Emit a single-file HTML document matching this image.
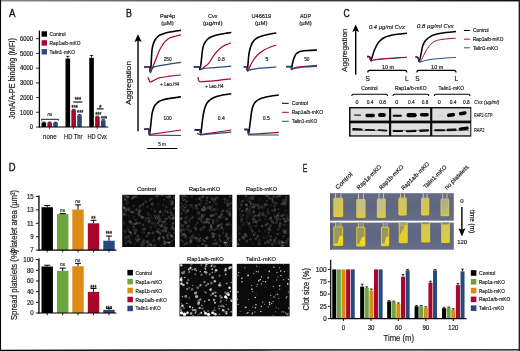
<!DOCTYPE html>
<html lang="en">
<head>
<meta charset="utf-8">
<title>Figure</title>
<style>
html,body{margin:0;padding:0;background:#fff;}
body{width:520px;height:351px;overflow:hidden;position:relative;}
svg{display:block;position:absolute;left:0;top:0;}
text{font-family:"Liberation Sans",sans-serif;stroke:#1a1a1a;stroke-width:0.18px;}
</style>
</head>
<body>
<svg width="520" height="351" viewBox="0 0 520 351">
<defs>
<filter id="b1" x="-10%" y="-30%" width="120%" height="160%"><feGaussianBlur stdDeviation="0.45"/></filter>
<linearGradient id="gtop" x1="0" y1="0" x2="1" y2="0"><stop offset="0" stop-color="#848484"/><stop offset="0.5" stop-color="#4a4a4a"/><stop offset="1" stop-color="#101010"/></linearGradient>
<linearGradient id="gb1" x1="0" y1="0" x2="1" y2="0"><stop offset="0" stop-color="#c4c4c4"/><stop offset="0.25" stop-color="#606060"/><stop offset="0.5" stop-color="#3a3a3a"/><stop offset="1" stop-color="#343434"/></linearGradient>
<linearGradient id="gb2" x1="0" y1="0" x2="1" y2="0"><stop offset="0" stop-color="#000"/><stop offset="0.5" stop-color="#3a3a3a"/><stop offset="0.53" stop-color="#6c6c6c"/><stop offset="1" stop-color="#848484"/></linearGradient>
<filter id="b05"><feGaussianBlur stdDeviation="0.3"/></filter>
<filter id="b04"><feGaussianBlur stdDeviation="0.35"/></filter>
<filter id="b045"><feGaussianBlur stdDeviation="0.6"/></filter>
<filter id="b06"><feGaussianBlur stdDeviation="0.45"/></filter>
<linearGradient id="pbg" x1="0" y1="0" x2="0" y2="1"><stop offset="0" stop-color="#646b85"/><stop offset="0.5" stop-color="#5f6681"/><stop offset="1" stop-color="#676d85"/></linearGradient>
<linearGradient id="ty1" x1="0" y1="0" x2="0" y2="1"><stop offset="0" stop-color="#d6c548"/><stop offset="0.8" stop-color="#dfca30"/><stop offset="1" stop-color="#e8d022"/></linearGradient>
<linearGradient id="ty1i" x1="0" y1="0" x2="0" y2="1"><stop offset="0" stop-color="#cbc274"/><stop offset="1" stop-color="#d6c752"/></linearGradient>
<linearGradient id="ty2" x1="0" y1="0" x2="0" y2="1"><stop offset="0" stop-color="#c9c07a"/><stop offset="0.75" stop-color="#d3c550"/><stop offset="1" stop-color="#dfcb2e"/></linearGradient>
<linearGradient id="ty2i" x1="0" y1="0" x2="0" y2="1"><stop offset="0" stop-color="#c2be94"/><stop offset="1" stop-color="#cfc56c"/></linearGradient>
<linearGradient id="ty3" x1="0" y1="0" x2="0" y2="1"><stop offset="0" stop-color="#bdb98a"/><stop offset="0.75" stop-color="#cdc25c"/><stop offset="1" stop-color="#dcc934"/></linearGradient>
<linearGradient id="ty3i" x1="0" y1="0" x2="0" y2="1"><stop offset="0" stop-color="#aaa98c"/><stop offset="1" stop-color="#c2ba68"/></linearGradient>
<linearGradient id="ty4" x1="0" y1="0" x2="0" y2="1"><stop offset="0" stop-color="#d8c84a"/><stop offset="1" stop-color="#e4ce28"/></linearGradient>
<linearGradient id="ty4i" x1="0" y1="0" x2="0" y2="1"><stop offset="0" stop-color="#d2c662"/><stop offset="1" stop-color="#dccb40"/></linearGradient>
</defs>
<rect x="0" y="0" width="520" height="351" fill="#fff"/>
<text x="9.00" y="16.90" font-size="11.0" text-anchor="start" fill="#1a1a1a" textLength="6.50" lengthAdjust="spacingAndGlyphs" style="stroke-width:0.4px">A</text>
<text x="126.10" y="17.00" font-size="11.0" text-anchor="start" fill="#1a1a1a" textLength="5.90" lengthAdjust="spacingAndGlyphs" style="stroke-width:0.4px">B</text>
<text x="343.60" y="17.10" font-size="11.0" text-anchor="start" fill="#1a1a1a" textLength="6.20" lengthAdjust="spacingAndGlyphs" style="stroke-width:0.4px">C</text>
<text x="8.70" y="171.30" font-size="11.0" text-anchor="start" fill="#1a1a1a" textLength="6.80" lengthAdjust="spacingAndGlyphs" style="stroke-width:0.4px">D</text>
<text x="302.80" y="171.50" font-size="11.0" text-anchor="start" fill="#1a1a1a" textLength="4.60" lengthAdjust="spacingAndGlyphs" style="stroke-width:0.4px">E</text>
<rect x="41.50" y="122.58" width="4.60" height="4.42" fill="#000"/>
<line x1="43.80" y1="122.14" x2="43.80" y2="122.58" stroke="#000" stroke-width="0.8"/>
<line x1="42.10" y1="122.14" x2="45.50" y2="122.14" stroke="#000" stroke-width="0.8"/>
<rect x="47.35" y="122.58" width="4.60" height="4.42" fill="#a8062c"/>
<line x1="49.65" y1="122.14" x2="49.65" y2="122.58" stroke="#000" stroke-width="0.8"/>
<line x1="47.95" y1="122.14" x2="51.35" y2="122.14" stroke="#000" stroke-width="0.8"/>
<rect x="53.20" y="122.73" width="4.60" height="4.27" fill="#28487e"/>
<line x1="55.50" y1="122.29" x2="55.50" y2="122.73" stroke="#000" stroke-width="0.8"/>
<line x1="53.80" y1="122.29" x2="57.20" y2="122.29" stroke="#000" stroke-width="0.8"/>
<rect x="65.50" y="58.55" width="4.60" height="68.45" fill="#000"/>
<line x1="67.80" y1="56.34" x2="67.80" y2="58.55" stroke="#000" stroke-width="0.8"/>
<line x1="66.10" y1="56.34" x2="69.50" y2="56.34" stroke="#000" stroke-width="0.8"/>
<rect x="71.35" y="110.07" width="4.60" height="16.93" fill="#a8062c"/>
<line x1="73.65" y1="109.34" x2="73.65" y2="110.07" stroke="#000" stroke-width="0.8"/>
<line x1="71.95" y1="109.34" x2="75.35" y2="109.34" stroke="#000" stroke-width="0.8"/>
<rect x="77.20" y="115.22" width="4.60" height="11.78" fill="#28487e"/>
<line x1="79.50" y1="114.64" x2="79.50" y2="115.22" stroke="#000" stroke-width="0.8"/>
<line x1="77.80" y1="114.64" x2="81.20" y2="114.64" stroke="#000" stroke-width="0.8"/>
<rect x="89.25" y="57.82" width="4.60" height="69.18" fill="#000"/>
<line x1="91.55" y1="55.46" x2="91.55" y2="57.82" stroke="#000" stroke-width="0.8"/>
<line x1="89.85" y1="55.46" x2="93.25" y2="55.46" stroke="#000" stroke-width="0.8"/>
<rect x="95.10" y="116.70" width="4.60" height="10.30" fill="#a8062c"/>
<line x1="97.40" y1="116.11" x2="97.40" y2="116.70" stroke="#000" stroke-width="0.8"/>
<line x1="95.70" y1="116.11" x2="99.10" y2="116.11" stroke="#000" stroke-width="0.8"/>
<rect x="100.95" y="120.38" width="4.60" height="6.62" fill="#28487e"/>
<line x1="103.25" y1="119.79" x2="103.25" y2="120.38" stroke="#000" stroke-width="0.8"/>
<line x1="101.55" y1="119.79" x2="104.95" y2="119.79" stroke="#000" stroke-width="0.8"/>
<line x1="39.40" y1="30.60" x2="39.40" y2="127.50" stroke="#000" stroke-width="1.3"/>
<line x1="38.80" y1="127.00" x2="108.20" y2="127.00" stroke="#000" stroke-width="1.1"/>
<line x1="36.00" y1="127.00" x2="39.20" y2="127.00" stroke="#000" stroke-width="0.8"/>
<text x="32.90" y="129.30" font-size="6.32" text-anchor="end" fill="#1a1a1a" textLength="3.20" lengthAdjust="spacingAndGlyphs">0</text>
<line x1="36.00" y1="112.28" x2="39.20" y2="112.28" stroke="#000" stroke-width="0.8"/>
<text x="32.90" y="114.58" font-size="6.32" text-anchor="end" fill="#1a1a1a" textLength="13.00" lengthAdjust="spacingAndGlyphs">1000</text>
<line x1="36.00" y1="97.56" x2="39.20" y2="97.56" stroke="#000" stroke-width="0.8"/>
<text x="32.90" y="99.86" font-size="6.32" text-anchor="end" fill="#1a1a1a" textLength="13.00" lengthAdjust="spacingAndGlyphs">2000</text>
<line x1="36.00" y1="82.84" x2="39.20" y2="82.84" stroke="#000" stroke-width="0.8"/>
<text x="32.90" y="85.14" font-size="6.32" text-anchor="end" fill="#1a1a1a" textLength="13.00" lengthAdjust="spacingAndGlyphs">3000</text>
<line x1="36.00" y1="68.12" x2="39.20" y2="68.12" stroke="#000" stroke-width="0.8"/>
<text x="32.90" y="70.42" font-size="6.32" text-anchor="end" fill="#1a1a1a" textLength="13.00" lengthAdjust="spacingAndGlyphs">4000</text>
<line x1="36.00" y1="53.40" x2="39.20" y2="53.40" stroke="#000" stroke-width="0.8"/>
<text x="32.90" y="55.70" font-size="6.32" text-anchor="end" fill="#1a1a1a" textLength="13.00" lengthAdjust="spacingAndGlyphs">5000</text>
<line x1="36.00" y1="38.68" x2="39.20" y2="38.68" stroke="#000" stroke-width="0.8"/>
<text x="32.90" y="40.98" font-size="6.32" text-anchor="end" fill="#1a1a1a" textLength="13.00" lengthAdjust="spacingAndGlyphs">6000</text>
<line x1="49.60" y1="127.00" x2="49.60" y2="129.20" stroke="#000" stroke-width="0.7"/>
<line x1="73.40" y1="127.00" x2="73.40" y2="129.20" stroke="#000" stroke-width="0.7"/>
<line x1="97.20" y1="127.00" x2="97.20" y2="129.20" stroke="#000" stroke-width="0.7"/>
<text x="49.80" y="138.81" font-size="6.67" text-anchor="middle" fill="#1a1a1a" textLength="13.40" lengthAdjust="spacingAndGlyphs">none</text>
<text x="73.20" y="138.81" font-size="6.67" text-anchor="middle" fill="#1a1a1a" textLength="18.30" lengthAdjust="spacingAndGlyphs">HD Thr</text>
<text x="97.20" y="138.81" font-size="6.67" text-anchor="middle" fill="#1a1a1a" textLength="19.30" lengthAdjust="spacingAndGlyphs">HD Cvx</text>
<text x="14.71" y="78.60" font-size="8.74" text-anchor="middle" fill="#1a1a1a" textLength="81.00" lengthAdjust="spacingAndGlyphs" transform="rotate(-90 14.71 78.60)">JonA/A-PE binding (MFI)</text>
<rect x="41.60" y="31.30" width="5.40" height="5.40" fill="#000"/>
<text x="49.60" y="36.07" font-size="5.75" text-anchor="start" fill="#1a1a1a" textLength="16.00" lengthAdjust="spacingAndGlyphs">Control</text>
<rect x="41.60" y="40.20" width="5.40" height="5.40" fill="#a8062c"/>
<text x="49.60" y="44.97" font-size="5.75" text-anchor="start" fill="#1a1a1a" textLength="31.00" lengthAdjust="spacingAndGlyphs">Rap1a/b-mKO</text>
<rect x="41.60" y="49.10" width="5.40" height="5.40" fill="#28487e"/>
<text x="49.60" y="53.87" font-size="5.75" text-anchor="start" fill="#1a1a1a" textLength="25.40" lengthAdjust="spacingAndGlyphs">Talin1-mKO</text>
<path d="M41.50,120.60 L41.50,119.30 L58.40,119.30 L58.40,120.60" fill="none" stroke="#000" stroke-width="0.9" stroke-linejoin="miter"/>
<text x="49.90" y="116.48" font-size="5.98" text-anchor="middle" fill="#1a1a1a" textLength="4.80" lengthAdjust="spacingAndGlyphs" font-style="italic">ns</text>
<text x="74.70" y="109.50" font-size="6.44" text-anchor="middle" fill="#1a1a1a" textLength="6.20" lengthAdjust="spacingAndGlyphs" style="stroke-width:0.35px">***</text>
<text x="80.20" y="115.00" font-size="6.44" text-anchor="middle" fill="#1a1a1a" textLength="6.20" lengthAdjust="spacingAndGlyphs" style="stroke-width:0.35px">***</text>
<line x1="73.30" y1="102.00" x2="82.40" y2="102.00" stroke="#000" stroke-width="1.1"/>
<text x="77.90" y="101.70" font-size="6.44" text-anchor="middle" fill="#1a1a1a" textLength="6.40" lengthAdjust="spacingAndGlyphs" style="stroke-width:0.35px">***</text>
<text x="98.30" y="116.70" font-size="6.44" text-anchor="middle" fill="#1a1a1a" textLength="6.20" lengthAdjust="spacingAndGlyphs" style="stroke-width:0.35px">***</text>
<text x="103.90" y="120.90" font-size="6.44" text-anchor="middle" fill="#1a1a1a" textLength="6.00" lengthAdjust="spacingAndGlyphs" style="stroke-width:0.35px">***</text>
<line x1="96.80" y1="108.90" x2="103.60" y2="108.90" stroke="#000" stroke-width="1.1"/>
<text x="100.20" y="109.50" font-size="6.44" text-anchor="middle" fill="#1a1a1a" style="stroke-width:0.35px">*</text>
<line x1="138.00" y1="39.00" x2="138.00" y2="131.20" stroke="#000" stroke-width="1.4"/>
<path d="M138,34.3 L141.6,42.0 L138,40.6 L134.4,42.0 Z" fill="#000"/>
<text x="130.90" y="83.00" font-size="8.1" text-anchor="middle" fill="#1a1a1a" textLength="43.80" lengthAdjust="spacingAndGlyphs" transform="rotate(-90 130.90 83.00)">Aggregation</text>
<text x="167.50" y="18.30" font-size="5.7" text-anchor="middle" fill="#1a1a1a" textLength="15.20" lengthAdjust="spacingAndGlyphs">Par4p</text>
<text x="167.50" y="25.30" font-size="5.7" text-anchor="middle" fill="#1a1a1a" textLength="12.40" lengthAdjust="spacingAndGlyphs">(µM)</text>
<text x="212.80" y="18.30" font-size="5.7" text-anchor="middle" fill="#1a1a1a" textLength="9.60" lengthAdjust="spacingAndGlyphs">Cvx</text>
<text x="212.80" y="25.30" font-size="5.7" text-anchor="middle" fill="#1a1a1a" textLength="19.60" lengthAdjust="spacingAndGlyphs">(µg/ml)</text>
<text x="261.30" y="18.30" font-size="5.7" text-anchor="middle" fill="#1a1a1a" textLength="19.60" lengthAdjust="spacingAndGlyphs">U46619</text>
<text x="261.30" y="25.30" font-size="5.7" text-anchor="middle" fill="#1a1a1a" textLength="12.40" lengthAdjust="spacingAndGlyphs">(µM)</text>
<text x="305.50" y="18.30" font-size="5.7" text-anchor="middle" fill="#1a1a1a" textLength="10.80" lengthAdjust="spacingAndGlyphs">ADP</text>
<text x="305.50" y="25.30" font-size="5.7" text-anchor="middle" fill="#1a1a1a" textLength="12.40" lengthAdjust="spacingAndGlyphs">(µM)</text>
<path d="M144.30,67.00 C145.18,67.00 148.14,66.21 149.20,67.00 C150.26,67.79 149.88,71.58 150.20,71.40 C150.52,71.22 150.68,69.85 151.00,66.00 C151.32,62.15 151.59,53.96 152.00,50.00 C152.41,46.04 152.76,45.80 153.30,44.00 C153.84,42.20 154.24,41.26 155.00,40.00 C155.76,38.74 156.60,37.90 157.50,37.00 C158.40,36.10 158.65,35.68 160.00,35.00 C161.35,34.32 163.20,33.74 165.00,33.20 C166.80,32.66 168.02,32.40 170.00,32.00 C171.98,31.60 174.02,31.31 176.00,31.00 C177.98,30.69 180.10,30.43 181.00,30.30" fill="none" stroke="#000" stroke-width="1.6" stroke-linecap="butt" stroke-linejoin="round"/>
<path d="M144.30,67.00 C145.25,67.00 148.43,66.17 149.60,67.00 C150.77,67.83 150.28,71.46 150.80,71.60 C151.32,71.74 151.74,69.62 152.50,67.80 C153.26,65.98 154.10,63.80 155.00,61.50 C155.90,59.20 156.60,57.20 157.50,55.00 C158.40,52.80 159.10,51.10 160.00,49.30 C160.90,47.50 161.60,46.39 162.50,45.00 C163.40,43.61 163.65,42.90 165.00,41.60 C166.35,40.30 168.02,38.81 170.00,37.80 C171.98,36.79 174.02,36.50 176.00,36.00 C177.98,35.50 180.10,35.18 181.00,35.00" fill="none" stroke="#a8062c" stroke-width="1.2" stroke-linecap="butt" stroke-linejoin="round"/>
<path d="M144.30,67.20 C145.18,67.13 148.12,65.81 149.20,66.80 C150.28,67.79 149.83,72.30 150.30,72.70 C150.77,73.10 150.95,70.10 151.80,69.00 C152.65,67.90 152.62,67.36 155.00,66.60 C157.38,65.84 160.32,65.57 165.00,64.80 C169.68,64.03 178.12,62.75 181.00,62.30" fill="none" stroke="#28487e" stroke-width="1.2" stroke-linecap="butt" stroke-linejoin="round"/>
<text x="167.60" y="61.26" font-size="5.52" text-anchor="middle" fill="#1a1a1a" textLength="7.90" lengthAdjust="spacingAndGlyphs">250</text>
<path d="M148.00,77.40 C148.14,77.78 148.44,78.67 148.80,79.50 C149.16,80.33 149.42,81.66 150.00,82.00 C150.58,82.34 151.10,81.80 152.00,81.40 C152.90,81.00 153.56,80.47 155.00,79.80 C156.44,79.13 157.30,78.35 160.00,77.70 C162.70,77.05 166.22,76.69 170.00,76.20 C173.78,75.71 179.02,75.22 181.00,75.00" fill="none" stroke="#a8062c" stroke-width="1.2" stroke-linecap="butt" stroke-linejoin="round"/>
<text x="169.70" y="86.25" font-size="5.29" text-anchor="middle" fill="#1a1a1a" textLength="18.80" lengthAdjust="spacingAndGlyphs">+ Leo.H4</text>
<path d="M193.80,67.00 C194.74,67.00 197.92,66.57 199.00,67.00 C200.08,67.43 199.48,69.76 199.80,69.40 C200.12,69.04 200.31,68.49 200.80,65.00 C201.29,61.51 202.00,53.51 202.50,50.00 C203.00,46.49 203.15,46.85 203.60,45.50 C204.05,44.15 204.33,43.58 205.00,42.50 C205.67,41.42 206.40,40.40 207.30,39.50 C208.20,38.60 208.61,38.22 210.00,37.50 C211.39,36.78 213.20,36.08 215.00,35.50 C216.80,34.92 218.02,34.70 220.00,34.30 C221.98,33.90 223.97,33.62 226.00,33.30 C228.03,32.98 230.35,32.64 231.30,32.50" fill="none" stroke="#000" stroke-width="1.6" stroke-linecap="butt" stroke-linejoin="round"/>
<path d="M193.80,67.00 C194.83,67.00 198.24,66.55 199.50,67.00 C200.76,67.45 199.99,69.46 200.80,69.50 C201.61,69.54 202.61,68.26 204.00,67.20 C205.39,66.14 207.06,65.20 208.50,63.60 C209.94,62.00 210.79,60.08 212.00,58.30 C213.21,56.52 214.03,55.19 215.20,53.70 C216.37,52.21 217.29,51.21 218.50,50.00 C219.71,48.79 220.55,47.94 221.90,47.00 C223.25,46.06 224.36,45.56 226.00,44.80 C227.64,44.04 230.10,43.16 231.00,42.80" fill="none" stroke="#a8062c" stroke-width="1.2" stroke-linecap="butt" stroke-linejoin="round"/>
<path d="M193.80,67.00 C194.84,66.96 198.38,66.33 199.60,66.80 C200.82,67.27 199.99,69.28 200.60,69.60 C201.21,69.92 201.31,68.91 203.00,68.60 C204.69,68.29 206.94,68.15 210.00,67.90 C213.06,67.65 216.17,67.51 220.00,67.20 C223.83,66.89 229.27,66.38 231.30,66.20" fill="none" stroke="#28487e" stroke-width="1.2" stroke-linecap="butt" stroke-linejoin="round"/>
<text x="221.30" y="61.26" font-size="5.52" text-anchor="middle" fill="#1a1a1a" textLength="7.00" lengthAdjust="spacingAndGlyphs">0.8</text>
<path d="M198.10,77.00 C198.17,77.54 198.19,79.15 198.50,80.00 C198.81,80.85 198.99,81.41 199.80,81.70 C200.61,81.99 201.16,81.71 203.00,81.60 C204.84,81.49 206.94,81.35 210.00,81.10 C213.06,80.85 216.22,80.60 220.00,80.20 C223.78,79.80 229.02,79.13 231.00,78.90" fill="none" stroke="#a8062c" stroke-width="1.2" stroke-linecap="butt" stroke-linejoin="round"/>
<text x="214.40" y="87.85" font-size="5.29" text-anchor="middle" fill="#1a1a1a" textLength="18.20" lengthAdjust="spacingAndGlyphs">+ Leo.H4</text>
<path d="M243.80,67.00 C244.30,67.00 245.97,66.42 246.60,67.00 C247.23,67.58 247.05,70.74 247.30,70.20 C247.55,69.66 247.73,66.74 248.00,64.00 C248.27,61.26 248.44,57.70 248.80,55.00 C249.16,52.30 249.55,50.80 250.00,49.00 C250.45,47.20 250.76,46.30 251.30,45.00 C251.84,43.70 252.33,42.79 253.00,41.80 C253.67,40.81 254.01,40.33 255.00,39.50 C255.99,38.67 257.15,37.87 258.50,37.20 C259.85,36.53 260.61,36.34 262.50,35.80 C264.39,35.26 266.52,34.70 269.00,34.20 C271.48,33.70 274.99,33.22 276.30,33.00" fill="none" stroke="#000" stroke-width="1.6" stroke-linecap="butt" stroke-linejoin="round"/>
<path d="M243.80,67.00 C244.34,67.00 246.08,66.32 246.80,67.00 C247.52,67.68 247.31,70.71 247.80,70.80 C248.29,70.89 248.87,68.76 249.50,67.50 C250.13,66.24 250.49,65.29 251.30,63.80 C252.11,62.31 252.88,60.78 254.00,59.20 C255.12,57.62 256.24,56.30 257.50,55.00 C258.76,53.70 259.65,52.99 261.00,52.00 C262.35,51.01 263.38,50.36 265.00,49.50 C266.62,48.64 267.97,48.01 270.00,47.20 C272.03,46.39 275.17,45.40 276.30,45.00" fill="none" stroke="#a8062c" stroke-width="1.2" stroke-linecap="butt" stroke-linejoin="round"/>
<path d="M243.80,67.00 C244.30,67.00 245.95,66.28 246.60,67.00 C247.25,67.72 246.97,70.42 247.40,71.00 C247.83,71.58 247.63,70.60 249.00,70.20 C250.37,69.80 252.12,69.23 255.00,68.80 C257.88,68.37 261.17,68.12 265.00,67.80 C268.83,67.48 274.27,67.14 276.30,67.00" fill="none" stroke="#28487e" stroke-width="1.2" stroke-linecap="butt" stroke-linejoin="round"/>
<text x="267.00" y="61.25" font-size="5.29" text-anchor="middle" fill="#1a1a1a">5</text>
<path d="M286.30,66.60 C287.11,66.60 289.85,66.31 290.80,66.60 C291.75,66.89 291.28,68.85 291.60,68.20 C291.92,67.55 292.20,64.69 292.60,63.00 C293.00,61.31 293.37,60.10 293.80,58.80 C294.23,57.50 294.55,56.70 295.00,55.80 C295.45,54.90 295.67,54.45 296.30,53.80 C296.93,53.15 297.60,52.65 298.50,52.20 C299.40,51.75 299.59,51.61 301.30,51.30 C303.01,50.99 305.17,50.73 308.00,50.50 C310.83,50.27 315.38,50.09 317.00,50.00" fill="none" stroke="#000" stroke-width="1.6" stroke-linecap="butt" stroke-linejoin="round"/>
<path d="M286.30,66.80 C287.15,66.80 289.97,66.44 291.00,66.80 C292.03,67.16 291.46,68.58 292.00,68.80 C292.54,69.02 293.01,68.31 294.00,68.00 C294.99,67.69 295.52,67.41 297.50,67.10 C299.48,66.79 301.49,66.61 305.00,66.30 C308.51,65.99 314.84,65.56 317.00,65.40" fill="none" stroke="#a8062c" stroke-width="1.2" stroke-linecap="butt" stroke-linejoin="round"/>
<path d="M286.30,66.80 C287.07,66.80 289.68,66.30 290.60,66.80 C291.52,67.30 290.97,69.22 291.40,69.60 C291.83,69.98 291.90,69.22 293.00,68.90 C294.10,68.58 295.34,68.14 297.50,67.80 C299.66,67.46 301.49,67.29 305.00,67.00 C308.51,66.71 314.84,66.34 317.00,66.20" fill="none" stroke="#28487e" stroke-width="1.2" stroke-linecap="butt" stroke-linejoin="round"/>
<text x="306.80" y="61.25" font-size="5.29" text-anchor="middle" fill="#1a1a1a" textLength="5.20" lengthAdjust="spacingAndGlyphs">50</text>
<path d="M144.30,129.40 C145.07,129.40 147.72,128.46 148.60,129.40 C149.48,130.34 148.91,134.49 149.20,134.60 C149.49,134.71 149.82,132.63 150.20,130.00 C150.58,127.37 150.98,122.88 151.30,120.00 C151.62,117.12 151.69,115.80 152.00,114.00 C152.31,112.20 152.57,111.37 153.00,110.00 C153.43,108.63 153.81,107.52 154.40,106.40 C154.99,105.28 155.47,104.68 156.30,103.80 C157.13,102.92 157.88,102.18 159.00,101.50 C160.12,100.82 160.52,100.56 162.50,100.00 C164.48,99.44 166.67,98.98 170.00,98.40 C173.33,97.82 179.02,97.09 181.00,96.80" fill="none" stroke="#000" stroke-width="1.6" stroke-linecap="butt" stroke-linejoin="round"/>
<path d="M144.30,129.20 L148.80,129.20 L149.60,134.60 L181.00,130.00" fill="none" stroke="#a8062c" stroke-width="1.2" stroke-linejoin="miter"/>
<path d="M144.30,129.00 L148.40,129.00 L149.40,135.20 L181.00,135.50" fill="none" stroke="#28487e" stroke-width="1.2" stroke-linejoin="miter"/>
<text x="167.60" y="119.56" font-size="5.52" text-anchor="middle" fill="#1a1a1a" textLength="8.00" lengthAdjust="spacingAndGlyphs">100</text>
<path d="M194.50,130.00 C195.49,130.00 198.87,129.32 200.00,130.00 C201.13,130.68 200.51,134.16 200.80,133.80 C201.09,133.44 201.29,130.48 201.60,128.00 C201.91,125.52 202.14,122.70 202.50,120.00 C202.86,117.30 203.15,115.25 203.60,113.00 C204.05,110.75 204.39,109.30 205.00,107.50 C205.61,105.70 206.10,104.35 207.00,103.00 C207.90,101.65 208.83,100.94 210.00,100.00 C211.17,99.06 212.15,98.47 213.50,97.80 C214.85,97.13 215.61,96.84 217.50,96.30 C219.39,95.76 221.52,95.25 224.00,94.80 C226.48,94.35 229.99,93.98 231.30,93.80" fill="none" stroke="#000" stroke-width="1.6" stroke-linecap="butt" stroke-linejoin="round"/>
<path d="M197.00,133.60 L200.60,134.60 L231.30,130.00" fill="none" stroke="#a8062c" stroke-width="1.2" stroke-linejoin="miter"/>
<path d="M194.50,130.40 L199.80,130.40 L200.80,134.80 L231.30,132.20" fill="none" stroke="#28487e" stroke-width="1.2" stroke-linejoin="miter"/>
<text x="221.30" y="119.76" font-size="5.52" text-anchor="middle" fill="#1a1a1a" textLength="7.00" lengthAdjust="spacingAndGlyphs">0.4</text>
<path d="M244.30,129.50 C244.93,129.50 247.03,128.73 247.80,129.50 C248.57,130.27 248.29,134.07 248.60,133.80 C248.91,133.53 249.16,130.48 249.50,128.00 C249.84,125.52 250.16,122.70 250.50,120.00 C250.84,117.30 251.04,115.25 251.40,113.00 C251.76,110.75 252.03,109.16 252.50,107.50 C252.97,105.84 253.32,104.93 254.00,103.80 C254.68,102.67 255.40,101.99 256.30,101.20 C257.20,100.41 257.88,99.98 259.00,99.40 C260.12,98.82 260.52,98.56 262.50,98.00 C264.48,97.44 267.07,96.84 270.00,96.30 C272.93,95.76 277.22,95.23 278.80,95.00" fill="none" stroke="#000" stroke-width="1.6" stroke-linecap="butt" stroke-linejoin="round"/>
<path d="M248.80,134.40 L278.80,132.40" fill="none" stroke="#a8062c" stroke-width="1.2" stroke-linejoin="miter"/>
<path d="M244.30,129.80 L247.60,129.80 L248.60,135.00 L278.80,135.00" fill="none" stroke="#28487e" stroke-width="1.2" stroke-linejoin="miter"/>
<text x="266.30" y="119.96" font-size="5.52" text-anchor="middle" fill="#1a1a1a" textLength="7.00" lengthAdjust="spacingAndGlyphs">0.5</text>
<line x1="147.20" y1="148.50" x2="177.40" y2="148.50" stroke="#000" stroke-width="1.0"/>
<text x="162.00" y="145.85" font-size="5.29" text-anchor="middle" fill="#1a1a1a" textLength="7.60" lengthAdjust="spacingAndGlyphs">5 m</text>
<line x1="282.00" y1="103.30" x2="288.80" y2="103.30" stroke="#000" stroke-width="1.0"/>
<text x="291.80" y="105.37" font-size="5.75" text-anchor="start" fill="#1a1a1a" textLength="16.20" lengthAdjust="spacingAndGlyphs">Control</text>
<line x1="282.00" y1="112.30" x2="288.80" y2="112.30" stroke="#a8062c" stroke-width="1.0"/>
<text x="291.80" y="114.37" font-size="5.75" text-anchor="start" fill="#1a1a1a" textLength="31.20" lengthAdjust="spacingAndGlyphs">Rap1a/b-mKO</text>
<line x1="282.00" y1="121.30" x2="288.80" y2="121.30" stroke="#28487e" stroke-width="1.0"/>
<text x="291.80" y="123.37" font-size="5.75" text-anchor="start" fill="#1a1a1a" textLength="25.40" lengthAdjust="spacingAndGlyphs">Talin1-mKO</text>
<line x1="355.70" y1="29.00" x2="355.70" y2="74.80" stroke="#000" stroke-width="1.4"/>
<path d="M355.7,24.6 L359.1,32.0 L355.7,30.6 L352.3,32.0 Z" fill="#000"/>
<text x="347.38" y="50.20" font-size="8.05" text-anchor="middle" fill="#1a1a1a" textLength="43.40" lengthAdjust="spacingAndGlyphs" transform="rotate(-90 347.38 50.20)">Aggregation</text>
<text x="386.90" y="28.59" font-size="6.21" text-anchor="middle" fill="#1a1a1a" textLength="35.80" lengthAdjust="spacingAndGlyphs" font-style="italic">0.4 µg/ml Cvx</text>
<text x="435.40" y="27.99" font-size="6.21" text-anchor="middle" fill="#1a1a1a" textLength="36.60" lengthAdjust="spacingAndGlyphs" font-style="italic">0.8 µg/ml Cvx</text>
<path d="M367.00,56.60 C367.47,56.64 368.92,56.08 369.60,56.80 C370.28,57.52 370.37,60.47 370.80,60.60 C371.23,60.73 371.53,58.87 372.00,57.50 C372.47,56.13 372.93,54.39 373.40,53.00 C373.87,51.61 373.95,51.31 374.60,49.80 C375.25,48.29 376.06,46.18 377.00,44.60 C377.94,43.02 378.63,42.19 379.80,41.00 C380.97,39.81 381.93,38.90 383.50,38.00 C385.07,37.10 386.07,36.67 388.50,36.00 C390.93,35.33 393.67,34.79 397.00,34.30 C400.33,33.81 405.20,33.48 407.00,33.30" fill="none" stroke="#000" stroke-width="1.5" stroke-linecap="butt" stroke-linejoin="round"/>
<path d="M367.00,57.00 C367.50,57.07 369.08,56.64 369.80,57.40 C370.52,58.16 370.42,60.70 371.00,61.20 C371.58,61.70 371.38,60.52 373.00,60.20 C374.62,59.88 376.58,59.72 380.00,59.40 C383.42,59.08 387.18,58.76 392.00,58.40 C396.82,58.04 404.14,57.58 406.80,57.40" fill="none" stroke="#28487e" stroke-width="1.0" stroke-linecap="butt" stroke-linejoin="round"/>
<path d="M367.00,56.60 C367.54,56.71 369.21,56.41 370.00,57.20 C370.79,57.99 370.79,60.53 371.40,61.00 C372.01,61.47 371.85,60.16 373.40,59.80 C374.95,59.44 376.65,59.31 380.00,59.00 C383.35,58.69 387.18,58.42 392.00,58.10 C396.82,57.78 404.14,57.36 406.80,57.20" fill="none" stroke="#a8062c" stroke-width="1.0" stroke-linecap="butt" stroke-linejoin="round"/>
<path d="M415.50,57.00 C415.95,57.14 417.33,56.97 418.00,57.80 C418.67,58.63 418.73,61.92 419.20,61.60 C419.67,61.28 420.13,58.09 420.60,56.00 C421.07,53.91 421.37,51.98 421.80,50.00 C422.23,48.02 422.35,46.66 423.00,45.00 C423.65,43.34 424.45,42.06 425.40,40.80 C426.35,39.54 427.11,38.94 428.30,38.00 C429.49,37.06 430.43,36.32 432.00,35.60 C433.57,34.88 434.48,34.56 437.00,34.00 C439.52,33.44 442.58,32.95 446.00,32.50 C449.42,32.05 454.20,31.68 456.00,31.50" fill="none" stroke="#000" stroke-width="1.5" stroke-linecap="butt" stroke-linejoin="round"/>
<path d="M415.50,57.00 C416.02,57.18 417.63,57.14 418.40,58.00 C419.17,58.86 419.24,61.51 419.80,61.80 C420.36,62.09 420.83,60.72 421.50,59.60 C422.17,58.48 422.69,57.18 423.50,55.60 C424.31,54.02 425.10,52.35 426.00,50.80 C426.90,49.25 427.60,48.19 428.50,47.00 C429.40,45.81 430.10,45.10 431.00,44.20 C431.90,43.30 432.33,42.70 433.50,42.00 C434.67,41.30 435.97,40.77 437.50,40.30 C439.03,39.83 439.93,39.69 442.00,39.40 C444.07,39.11 446.52,38.92 449.00,38.70 C451.48,38.48 454.58,38.29 455.80,38.20" fill="none" stroke="#a8062c" stroke-width="1.0" stroke-linecap="butt" stroke-linejoin="round"/>
<path d="M415.50,57.20 C415.99,57.34 417.46,57.10 418.20,58.00 C418.94,58.90 418.92,61.59 419.60,62.20 C420.28,62.81 420.13,61.87 422.00,61.40 C423.87,60.93 426.40,60.16 430.00,59.60 C433.60,59.04 437.32,58.70 442.00,58.30 C446.68,57.90 453.48,57.56 456.00,57.40" fill="none" stroke="#28487e" stroke-width="1.0" stroke-linecap="butt" stroke-linejoin="round"/>
<path d="M367.7,72.6 Q367.7,70.4 369.5,70.4 L405.0,70.4 Q406.8,70.4 406.8,72.6" fill="none" stroke="#000" stroke-width="1.1"/>
<text x="388.05" y="68.67" font-size="5.75" text-anchor="middle" fill="#1a1a1a" textLength="12.20" lengthAdjust="spacingAndGlyphs">10 m</text>
<path d="M416.8,72.6 Q416.8,70.4 418.6,70.4 L454.2,70.4 Q456,70.4 456,72.6" fill="none" stroke="#000" stroke-width="1.1"/>
<text x="437.20" y="68.67" font-size="5.75" text-anchor="middle" fill="#1a1a1a" textLength="12.20" lengthAdjust="spacingAndGlyphs">10 m</text>
<text x="367.70" y="80.71" font-size="6.55" text-anchor="middle" fill="#1a1a1a">S</text>
<text x="406.80" y="80.71" font-size="6.55" text-anchor="middle" fill="#1a1a1a">L</text>
<text x="417.50" y="80.71" font-size="6.55" text-anchor="middle" fill="#1a1a1a">S</text>
<text x="456.30" y="80.71" font-size="6.55" text-anchor="middle" fill="#1a1a1a">L</text>
<line x1="463.90" y1="30.50" x2="469.90" y2="30.50" stroke="#000" stroke-width="1.0"/>
<text x="472.90" y="32.46" font-size="5.52" text-anchor="start" fill="#1a1a1a" textLength="15.80" lengthAdjust="spacingAndGlyphs">Control</text>
<line x1="463.90" y1="39.15" x2="469.90" y2="39.15" stroke="#a8062c" stroke-width="1.0"/>
<text x="472.90" y="41.11" font-size="5.52" text-anchor="start" fill="#1a1a1a" textLength="30.50" lengthAdjust="spacingAndGlyphs">Rap1a/b-mKO</text>
<line x1="463.90" y1="47.80" x2="469.90" y2="47.80" stroke="#28487e" stroke-width="1.0"/>
<text x="472.90" y="49.76" font-size="5.52" text-anchor="start" fill="#1a1a1a" textLength="25.20" lengthAdjust="spacingAndGlyphs">Talin1-mKO</text>
<text x="369.50" y="90.37" font-size="5.75" text-anchor="middle" fill="#1a1a1a" textLength="16.40" lengthAdjust="spacingAndGlyphs">Control</text>
<text x="410.80" y="90.37" font-size="5.75" text-anchor="middle" fill="#1a1a1a" textLength="31.60" lengthAdjust="spacingAndGlyphs">Rap1a/b-mKO</text>
<text x="451.30" y="90.37" font-size="5.75" text-anchor="middle" fill="#1a1a1a" textLength="25.60" lengthAdjust="spacingAndGlyphs">Talin1-mKO</text>
<path d="M351.8,96.0 Q351.8,94.2 353.40000000000003,94.2 L385.9,94.2 Q387.5,94.2 387.5,96.0" fill="none" stroke="#000" stroke-width="1.1"/>
<path d="M393,96.0 Q393,94.2 394.6,94.2 L427.2,94.2 Q428.8,94.2 428.8,96.0" fill="none" stroke="#000" stroke-width="1.1"/>
<path d="M434.3,96.0 Q434.3,94.2 435.90000000000003,94.2 L468.4,94.2 Q470,94.2 470,96.0" fill="none" stroke="#000" stroke-width="1.1"/>
<text x="357.00" y="103.95" font-size="5.4" text-anchor="middle" fill="#1a1a1a">0</text>
<text x="370.00" y="103.95" font-size="5.4" text-anchor="middle" fill="#1a1a1a" textLength="6.60" lengthAdjust="spacingAndGlyphs">0.4</text>
<text x="382.50" y="103.95" font-size="5.4" text-anchor="middle" fill="#1a1a1a" textLength="6.60" lengthAdjust="spacingAndGlyphs">0.8</text>
<text x="396.80" y="103.95" font-size="5.4" text-anchor="middle" fill="#1a1a1a">0</text>
<text x="411.30" y="103.95" font-size="5.4" text-anchor="middle" fill="#1a1a1a" textLength="6.60" lengthAdjust="spacingAndGlyphs">0.4</text>
<text x="425.00" y="103.95" font-size="5.4" text-anchor="middle" fill="#1a1a1a" textLength="6.60" lengthAdjust="spacingAndGlyphs">0.8</text>
<text x="439.30" y="103.95" font-size="5.4" text-anchor="middle" fill="#1a1a1a">0</text>
<text x="453.00" y="103.95" font-size="5.4" text-anchor="middle" fill="#1a1a1a" textLength="6.60" lengthAdjust="spacingAndGlyphs">0.4</text>
<text x="466.30" y="103.95" font-size="5.4" text-anchor="middle" fill="#1a1a1a" textLength="6.60" lengthAdjust="spacingAndGlyphs">0.8</text>
<text x="474.30" y="103.98" font-size="5.98" text-anchor="start" fill="#1a1a1a" textLength="25.00" lengthAdjust="spacingAndGlyphs" font-style="italic">Cvx (µg/ml)</text>
<text x="474.00" y="117.19" font-size="6.09" text-anchor="start" fill="#1a1a1a" textLength="18.40" lengthAdjust="spacingAndGlyphs">RAP2-GTP</text>
<text x="474.00" y="132.09" font-size="6.09" text-anchor="start" fill="#1a1a1a" textLength="10.40" lengthAdjust="spacingAndGlyphs">RAP2</text>
<rect x="349.00" y="107.00" width="122.30" height="29.60" fill="#0c0c0c"/>
<rect x="350.50" y="108.40" width="38.50" height="12.20" fill="#dcdcdc"/>
<rect x="350.50" y="123.30" width="38.50" height="12.00" fill="#e0e0e0"/>
<rect x="391.20" y="108.40" width="38.90" height="12.20" fill="#dcdcdc"/>
<rect x="391.20" y="123.30" width="38.90" height="12.00" fill="#e0e0e0"/>
<rect x="432.30" y="108.40" width="38.00" height="12.20" fill="#dcdcdc"/>
<rect x="432.30" y="123.30" width="38.00" height="12.00" fill="#e0e0e0"/>
<g filter="url(#b1)">
<rect x="354.0" y="114.4" width="7.2" height="1.4" rx="0.7" fill="#060606" opacity="0.85"/>
<rect x="365.4" y="113.8" width="9.6" height="3.4" rx="1.7" fill="#060606" opacity="1"/>
<rect x="378.0" y="113.0" width="7.9" height="4.0" rx="2.0" fill="#060606" opacity="1"/>
<rect x="392.6" y="114.7" width="9.3" height="2.0" rx="1.0" fill="#060606" opacity="1"/>
<rect x="406.5" y="113.0" width="10.2" height="4.3" rx="2.2" fill="#060606" opacity="1"/>
<rect x="419.9" y="113.0" width="8.9" height="3.5" rx="1.8" fill="#060606" opacity="1"/>
<rect x="437.5" y="115.6" width="5.0" height="0.6" rx="0.3" fill="#060606" opacity="0.1"/>
<rect x="446.9" y="113.2" width="8.2" height="3.6" rx="1.8" fill="#060606" opacity="1" transform="rotate(-8 451.0 115.0)"/>
<rect x="458.8" y="111.6" width="7.8" height="3.5" rx="1.7" fill="#060606" opacity="1" transform="rotate(-8 462.7 113.3)"/>
<rect x="352.2" y="128.3" width="10.4" height="2.1" rx="1.1" fill="#060606" opacity="1" transform="rotate(3 357.4 129.4)"/>
<rect x="365.0" y="129.1" width="10.0" height="1.8" rx="0.9" fill="#060606" opacity="1" transform="rotate(2 370.0 130.1)"/>
<rect x="377.8" y="129.4" width="9.4" height="1.9" rx="1.0" fill="#060606" opacity="1" transform="rotate(4 382.5 130.4)"/>
<rect x="392.6" y="129.9" width="10.4" height="2.2" rx="1.1" fill="#060606" opacity="1"/>
<rect x="405.8" y="130.0" width="10.6" height="2.2" rx="1.1" fill="#060606" opacity="1" transform="rotate(-2 411.1 131.1)"/>
<rect x="419.2" y="129.4" width="10.0" height="2.3" rx="1.1" fill="#060606" opacity="1" transform="rotate(-3 424.2 130.6)"/>
<rect x="434.2" y="129.2" width="11.0" height="2.0" rx="1.0" fill="#060606" opacity="1"/>
<rect x="446.5" y="128.6" width="10.1" height="2.5" rx="1.3" fill="#060606" opacity="1" transform="rotate(-3 451.6 129.9)"/>
<rect x="458.6" y="127.0" width="10.2" height="3.3" rx="1.7" fill="#060606" opacity="1" transform="rotate(-8 463.7 128.7)"/>
<rect x="352.0" y="129.9" width="35.5" height="1.0" fill="#222" opacity="0.55"/>
<rect x="392.7" y="129.9" width="35.9" height="1.0" fill="#222" opacity="0.55"/>
<rect x="433.8" y="129.9" width="35.0" height="1.0" fill="#222" opacity="0.55"/>
</g>
<rect x="41.50" y="207.22" width="11.40" height="42.88" fill="#000"/>
<line x1="47.20" y1="205.54" x2="47.20" y2="207.22" stroke="#000" stroke-width="1.0"/>
<line x1="44.20" y1="205.54" x2="50.20" y2="205.54" stroke="#000" stroke-width="1.0"/>
<rect x="57.00" y="213.92" width="11.40" height="36.18" fill="#6ba53b"/>
<line x1="62.70" y1="213.59" x2="62.70" y2="213.92" stroke="#000" stroke-width="1.0"/>
<line x1="59.70" y1="213.59" x2="65.70" y2="213.59" stroke="#000" stroke-width="1.0"/>
<rect x="72.30" y="209.56" width="11.40" height="40.53" fill="#dc8c16"/>
<line x1="78.00" y1="204.88" x2="78.00" y2="209.56" stroke="#000" stroke-width="1.0"/>
<line x1="75.00" y1="204.88" x2="81.00" y2="204.88" stroke="#000" stroke-width="1.0"/>
<rect x="87.80" y="223.30" width="11.40" height="26.80" fill="#a8062c"/>
<line x1="93.50" y1="220.28" x2="93.50" y2="223.30" stroke="#000" stroke-width="1.0"/>
<line x1="90.50" y1="220.28" x2="96.50" y2="220.28" stroke="#000" stroke-width="1.0"/>
<rect x="103.30" y="240.72" width="11.40" height="9.38" fill="#28487e"/>
<line x1="109.00" y1="236.03" x2="109.00" y2="240.72" stroke="#000" stroke-width="1.0"/>
<line x1="106.00" y1="236.03" x2="112.00" y2="236.03" stroke="#000" stroke-width="1.0"/>
<line x1="38.95" y1="195.40" x2="38.95" y2="250.60" stroke="#000" stroke-width="1.3"/>
<line x1="38.35" y1="250.10" x2="116.40" y2="250.10" stroke="#000" stroke-width="1.1"/>
<line x1="35.85" y1="250.10" x2="38.75" y2="250.10" stroke="#000" stroke-width="0.9"/>
<text x="33.60" y="252.40" font-size="6.44" text-anchor="end" fill="#1a1a1a" textLength="3.40" lengthAdjust="spacingAndGlyphs">7</text>
<line x1="35.85" y1="236.70" x2="38.75" y2="236.70" stroke="#000" stroke-width="0.9"/>
<text x="33.60" y="239.00" font-size="6.44" text-anchor="end" fill="#1a1a1a" textLength="3.40" lengthAdjust="spacingAndGlyphs">9</text>
<line x1="35.85" y1="223.30" x2="38.75" y2="223.30" stroke="#000" stroke-width="0.9"/>
<text x="33.60" y="225.60" font-size="6.44" text-anchor="end" fill="#1a1a1a" textLength="6.70" lengthAdjust="spacingAndGlyphs">11</text>
<line x1="35.85" y1="209.90" x2="38.75" y2="209.90" stroke="#000" stroke-width="0.9"/>
<text x="33.60" y="212.20" font-size="6.44" text-anchor="end" fill="#1a1a1a" textLength="6.70" lengthAdjust="spacingAndGlyphs">13</text>
<line x1="35.85" y1="196.50" x2="38.75" y2="196.50" stroke="#000" stroke-width="0.9"/>
<text x="33.60" y="198.80" font-size="6.44" text-anchor="end" fill="#1a1a1a" textLength="6.70" lengthAdjust="spacingAndGlyphs">15</text>
<line x1="47.20" y1="250.10" x2="47.20" y2="252.40" stroke="#000" stroke-width="0.9"/>
<line x1="62.70" y1="250.10" x2="62.70" y2="252.40" stroke="#000" stroke-width="0.9"/>
<line x1="78.00" y1="250.10" x2="78.00" y2="252.40" stroke="#000" stroke-width="0.9"/>
<line x1="93.50" y1="250.10" x2="93.50" y2="252.40" stroke="#000" stroke-width="0.9"/>
<line x1="109.00" y1="250.10" x2="109.00" y2="252.40" stroke="#000" stroke-width="0.9"/>
<text x="62.60" y="211.89" font-size="6.21" text-anchor="middle" fill="#1a1a1a" textLength="5.00" lengthAdjust="spacingAndGlyphs" font-style="italic">ns</text>
<text x="77.80" y="202.99" font-size="6.21" text-anchor="middle" fill="#1a1a1a" textLength="5.00" lengthAdjust="spacingAndGlyphs" font-style="italic">ns</text>
<text x="93.40" y="220.80" font-size="6.44" text-anchor="middle" fill="#1a1a1a" textLength="4.20" lengthAdjust="spacingAndGlyphs" style="stroke-width:0.35px">**</text>
<text x="108.90" y="236.30" font-size="6.44" text-anchor="middle" fill="#1a1a1a" textLength="6.20" lengthAdjust="spacingAndGlyphs" style="stroke-width:0.35px">***</text>
<text x="17.44" y="221.40" font-size="9.43" text-anchor="middle" fill="#1a1a1a" textLength="63.00" lengthAdjust="spacingAndGlyphs" transform="rotate(-90 17.44 221.40)">Platelet area (µm²)</text>
<rect x="41.50" y="266.54" width="11.40" height="46.46" fill="#000"/>
<line x1="47.20" y1="265.21" x2="47.20" y2="266.54" stroke="#000" stroke-width="1.0"/>
<line x1="44.20" y1="265.21" x2="50.20" y2="265.21" stroke="#000" stroke-width="1.0"/>
<rect x="57.00" y="270.81" width="11.40" height="42.19" fill="#6ba53b"/>
<line x1="62.70" y1="268.14" x2="62.70" y2="270.81" stroke="#000" stroke-width="1.0"/>
<line x1="59.70" y1="268.14" x2="65.70" y2="268.14" stroke="#000" stroke-width="1.0"/>
<rect x="72.30" y="266.27" width="11.40" height="46.73" fill="#dc8c16"/>
<line x1="78.00" y1="263.34" x2="78.00" y2="266.27" stroke="#000" stroke-width="1.0"/>
<line x1="75.00" y1="263.34" x2="81.00" y2="263.34" stroke="#000" stroke-width="1.0"/>
<rect x="87.80" y="291.91" width="11.40" height="21.09" fill="#a8062c"/>
<line x1="93.50" y1="288.44" x2="93.50" y2="291.91" stroke="#000" stroke-width="1.0"/>
<line x1="90.50" y1="288.44" x2="96.50" y2="288.44" stroke="#000" stroke-width="1.0"/>
<rect x="103.30" y="309.80" width="11.40" height="3.20" fill="#28487e"/>
<line x1="109.00" y1="308.46" x2="109.00" y2="309.80" stroke="#000" stroke-width="1.0"/>
<line x1="106.00" y1="308.46" x2="112.00" y2="308.46" stroke="#000" stroke-width="1.0"/>
<line x1="38.95" y1="258.60" x2="38.95" y2="313.50" stroke="#000" stroke-width="1.3"/>
<line x1="38.35" y1="313.00" x2="116.40" y2="313.00" stroke="#000" stroke-width="1.1"/>
<line x1="35.85" y1="313.00" x2="38.75" y2="313.00" stroke="#000" stroke-width="0.9"/>
<text x="33.60" y="315.30" font-size="6.44" text-anchor="end" fill="#1a1a1a" textLength="3.40" lengthAdjust="spacingAndGlyphs">0</text>
<line x1="35.85" y1="302.32" x2="38.75" y2="302.32" stroke="#000" stroke-width="0.9"/>
<text x="33.60" y="304.62" font-size="6.44" text-anchor="end" fill="#1a1a1a" textLength="6.70" lengthAdjust="spacingAndGlyphs">20</text>
<line x1="35.85" y1="291.64" x2="38.75" y2="291.64" stroke="#000" stroke-width="0.9"/>
<text x="33.60" y="293.94" font-size="6.44" text-anchor="end" fill="#1a1a1a" textLength="6.70" lengthAdjust="spacingAndGlyphs">40</text>
<line x1="35.85" y1="280.96" x2="38.75" y2="280.96" stroke="#000" stroke-width="0.9"/>
<text x="33.60" y="283.26" font-size="6.44" text-anchor="end" fill="#1a1a1a" textLength="6.70" lengthAdjust="spacingAndGlyphs">60</text>
<line x1="35.85" y1="270.28" x2="38.75" y2="270.28" stroke="#000" stroke-width="0.9"/>
<text x="33.60" y="272.58" font-size="6.44" text-anchor="end" fill="#1a1a1a" textLength="6.70" lengthAdjust="spacingAndGlyphs">80</text>
<line x1="35.85" y1="259.60" x2="38.75" y2="259.60" stroke="#000" stroke-width="0.9"/>
<text x="33.60" y="261.90" font-size="6.44" text-anchor="end" fill="#1a1a1a" textLength="10.40" lengthAdjust="spacingAndGlyphs">100</text>
<line x1="47.20" y1="313.00" x2="47.20" y2="315.30" stroke="#000" stroke-width="0.9"/>
<line x1="62.70" y1="313.00" x2="62.70" y2="315.30" stroke="#000" stroke-width="0.9"/>
<line x1="78.00" y1="313.00" x2="78.00" y2="315.30" stroke="#000" stroke-width="0.9"/>
<line x1="93.50" y1="313.00" x2="93.50" y2="315.30" stroke="#000" stroke-width="0.9"/>
<line x1="109.00" y1="313.00" x2="109.00" y2="315.30" stroke="#000" stroke-width="0.9"/>
<text x="62.60" y="266.29" font-size="6.21" text-anchor="middle" fill="#1a1a1a" textLength="5.00" lengthAdjust="spacingAndGlyphs" font-style="italic">ns</text>
<text x="77.80" y="261.69" font-size="6.21" text-anchor="middle" fill="#1a1a1a" textLength="5.00" lengthAdjust="spacingAndGlyphs" font-style="italic">ns</text>
<text x="93.40" y="290.30" font-size="6.44" text-anchor="middle" fill="#1a1a1a" textLength="6.20" lengthAdjust="spacingAndGlyphs" style="stroke-width:0.35px">***</text>
<text x="108.90" y="311.30" font-size="6.44" text-anchor="middle" fill="#1a1a1a" textLength="6.20" lengthAdjust="spacingAndGlyphs" style="stroke-width:0.35px">***</text>
<text x="17.44" y="284.80" font-size="9.43" text-anchor="middle" fill="#1a1a1a" textLength="70.60" lengthAdjust="spacingAndGlyphs" transform="rotate(-90 17.44 284.80)">Spread platelets (%)</text>
<rect x="127.40" y="269.90" width="5.50" height="5.50" fill="#000"/>
<text x="135.60" y="274.66" font-size="5.63" text-anchor="start" fill="#1a1a1a" textLength="16.20" lengthAdjust="spacingAndGlyphs">Control</text>
<rect x="127.40" y="278.85" width="5.50" height="5.50" fill="#6ba53b"/>
<text x="135.60" y="283.61" font-size="5.63" text-anchor="start" fill="#1a1a1a" textLength="26.40" lengthAdjust="spacingAndGlyphs">Rap1a-mKO</text>
<rect x="127.40" y="287.80" width="5.50" height="5.50" fill="#dc8c16"/>
<text x="135.60" y="292.56" font-size="5.63" text-anchor="start" fill="#1a1a1a" textLength="26.40" lengthAdjust="spacingAndGlyphs">Rap1b-mKO</text>
<rect x="127.40" y="296.75" width="5.50" height="5.50" fill="#a8062c"/>
<text x="135.60" y="301.51" font-size="5.63" text-anchor="start" fill="#1a1a1a" textLength="31.20" lengthAdjust="spacingAndGlyphs">Rap1a/b-mKO</text>
<rect x="127.40" y="305.70" width="5.50" height="5.50" fill="#28487e"/>
<text x="135.60" y="310.46" font-size="5.63" text-anchor="start" fill="#1a1a1a" textLength="25.20" lengthAdjust="spacingAndGlyphs">Talin1-mKO</text>
<text x="146.50" y="190.68" font-size="5.98" text-anchor="middle" fill="#1a1a1a" textLength="19.00" lengthAdjust="spacingAndGlyphs">Control</text>
<text x="204.50" y="190.68" font-size="5.98" text-anchor="middle" fill="#1a1a1a" textLength="31.20" lengthAdjust="spacingAndGlyphs">Rap1a-mKO</text>
<text x="261.60" y="190.68" font-size="5.98" text-anchor="middle" fill="#1a1a1a" textLength="31.20" lengthAdjust="spacingAndGlyphs">Rap1b-mKO</text>
<text x="205.40" y="260.68" font-size="5.98" text-anchor="middle" fill="#1a1a1a" textLength="36.80" lengthAdjust="spacingAndGlyphs">Rap1a/b-mKO</text>
<text x="261.00" y="260.68" font-size="5.98" text-anchor="middle" fill="#1a1a1a" textLength="29.80" lengthAdjust="spacingAndGlyphs">Talin1-mKO</text>
<rect x="122.20" y="194.80" width="52.80" height="52.20" fill="#0b0b0b"/>
<g clip-path="url(#c1)" filter="url(#b05)">
<clipPath id="c1"><rect x="122.2" y="194.8" width="52.8" height="52.2"/></clipPath>
<circle cx="129.7" cy="238.7" r="0.97" fill="none" stroke="#4a4a4a" stroke-width="0.42"/>
<circle cx="148.4" cy="218.3" r="0.91" fill="none" stroke="#828282" stroke-width="0.42"/>
<circle cx="127.6" cy="196.8" r="1.01" fill="none" stroke="#5d5d5d" stroke-width="0.42"/>
<circle cx="162.2" cy="195.4" r="0.79" fill="none" stroke="#7b7b7b" stroke-width="0.42"/>
<circle cx="134.5" cy="243.7" r="1.05" fill="none" stroke="#333333" stroke-width="0.42"/>
<circle cx="124.0" cy="223.0" r="1.07" fill="none" stroke="#575757" stroke-width="0.42"/>
<circle cx="133.9" cy="216.9" r="0.57" fill="none" stroke="#474747" stroke-width="0.42"/>
<circle cx="145.4" cy="220.7" r="0.68" fill="none" stroke="#484848" stroke-width="0.42"/>
<circle cx="134.0" cy="218.8" r="0.71" fill="none" stroke="#323232" stroke-width="0.42"/>
<circle cx="166.1" cy="223.8" r="0.90" fill="none" stroke="#434343" stroke-width="0.42"/>
<circle cx="174.1" cy="239.3" r="0.62" fill="none" stroke="#525252" stroke-width="0.42"/>
<circle cx="160.1" cy="231.7" r="1.07" fill="none" stroke="#5b5b5b" stroke-width="0.42"/>
<circle cx="165.7" cy="229.6" r="0.72" fill="none" stroke="#6d6d6d" stroke-width="0.42"/>
<circle cx="168.4" cy="238.6" r="0.83" fill="none" stroke="#6d6d6d" stroke-width="0.42"/>
<circle cx="124.5" cy="207.7" r="0.99" fill="none" stroke="#5b5b5b" stroke-width="0.42"/>
<circle cx="131.7" cy="223.4" r="0.94" fill="none" stroke="#767676" stroke-width="0.42"/>
<circle cx="142.1" cy="217.8" r="0.83" fill="none" stroke="#808080" stroke-width="0.42"/>
<circle cx="149.7" cy="215.4" r="0.82" fill="none" stroke="#333333" stroke-width="0.42"/>
<circle cx="125.0" cy="231.3" r="1.09" fill="none" stroke="#6d6d6d" stroke-width="0.42"/>
<circle cx="143.1" cy="204.0" r="0.83" fill="none" stroke="#969696" stroke-width="0.42"/>
<circle cx="162.6" cy="222.9" r="1.02" fill="none" stroke="#484848" stroke-width="0.42"/>
<circle cx="149.3" cy="244.1" r="0.87" fill="none" stroke="#5f5f5f" stroke-width="0.42"/>
<circle cx="136.6" cy="223.4" r="1.08" fill="none" stroke="#303030" stroke-width="0.42"/>
<circle cx="163.3" cy="237.3" r="1.04" fill="none" stroke="#7d7d7d" stroke-width="0.42"/>
<circle cx="164.6" cy="221.9" r="0.86" fill="none" stroke="#5c5c5c" stroke-width="0.42"/>
<circle cx="125.6" cy="239.8" r="0.86" fill="none" stroke="#444444" stroke-width="0.42"/>
<circle cx="148.8" cy="220.1" r="0.75" fill="none" stroke="#535353" stroke-width="0.42"/>
<circle cx="150.6" cy="227.2" r="0.89" fill="none" stroke="#5f5f5f" stroke-width="0.42"/>
<circle cx="124.1" cy="207.1" r="0.65" fill="none" stroke="#6c6c6c" stroke-width="0.42"/>
<circle cx="167.3" cy="236.2" r="0.99" fill="none" stroke="#848484" stroke-width="0.42"/>
<circle cx="135.9" cy="238.4" r="0.92" fill="none" stroke="#383838" stroke-width="0.42"/>
<circle cx="123.6" cy="196.0" r="0.97" fill="none" stroke="#494949" stroke-width="0.42"/>
<circle cx="128.4" cy="227.3" r="0.74" fill="none" stroke="#373737" stroke-width="0.42"/>
<circle cx="131.0" cy="222.3" r="0.64" fill="none" stroke="#4c4c4c" stroke-width="0.42"/>
<circle cx="159.6" cy="218.6" r="0.73" fill="none" stroke="#616161" stroke-width="0.42"/>
<circle cx="123.9" cy="215.1" r="0.78" fill="none" stroke="#434343" stroke-width="0.42"/>
<circle cx="128.3" cy="241.4" r="0.83" fill="none" stroke="#454545" stroke-width="0.42"/>
<circle cx="154.1" cy="237.1" r="0.56" fill="none" stroke="#313131" stroke-width="0.42"/>
<circle cx="130.3" cy="232.1" r="0.64" fill="none" stroke="#797979" stroke-width="0.42"/>
<circle cx="157.8" cy="223.2" r="0.67" fill="none" stroke="#959595" stroke-width="0.42"/>
<circle cx="164.0" cy="221.7" r="0.67" fill="none" stroke="#737373" stroke-width="0.42"/>
<circle cx="143.2" cy="224.8" r="0.73" fill="none" stroke="#717171" stroke-width="0.42"/>
<circle cx="125.7" cy="210.6" r="1.08" fill="none" stroke="#8b8b8b" stroke-width="0.42"/>
<circle cx="138.6" cy="239.3" r="0.72" fill="none" stroke="#919191" stroke-width="0.42"/>
<circle cx="161.2" cy="216.6" r="0.69" fill="none" stroke="#303030" stroke-width="0.42"/>
<circle cx="168.2" cy="197.2" r="1.00" fill="none" stroke="#949494" stroke-width="0.42"/>
<circle cx="152.2" cy="204.1" r="1.03" fill="none" stroke="#959595" stroke-width="0.42"/>
<circle cx="159.2" cy="221.4" r="0.76" fill="none" stroke="#545454" stroke-width="0.42"/>
<circle cx="133.4" cy="229.8" r="0.79" fill="none" stroke="#444444" stroke-width="0.42"/>
<circle cx="128.1" cy="229.4" r="0.71" fill="none" stroke="#636363" stroke-width="0.42"/>
<circle cx="139.6" cy="239.9" r="1.04" fill="none" stroke="#313131" stroke-width="0.42"/>
<circle cx="133.1" cy="212.1" r="1.09" fill="none" stroke="#818181" stroke-width="0.42"/>
<circle cx="140.3" cy="206.2" r="0.92" fill="none" stroke="#878787" stroke-width="0.42"/>
<circle cx="171.0" cy="212.9" r="1.04" fill="none" stroke="#777777" stroke-width="0.42"/>
<circle cx="147.8" cy="245.8" r="0.68" fill="none" stroke="#7b7b7b" stroke-width="0.42"/>
<circle cx="127.1" cy="204.0" r="1.05" fill="none" stroke="#464646" stroke-width="0.42"/>
<circle cx="162.0" cy="226.0" r="1.01" fill="none" stroke="#565656" stroke-width="0.42"/>
<circle cx="140.3" cy="210.2" r="1.03" fill="none" stroke="#6e6e6e" stroke-width="0.42"/>
<circle cx="172.1" cy="240.7" r="0.62" fill="none" stroke="#696969" stroke-width="0.42"/>
<circle cx="128.1" cy="197.3" r="0.59" fill="none" stroke="#8a8a8a" stroke-width="0.42"/>
<circle cx="163.5" cy="237.7" r="0.74" fill="none" stroke="#6f6f6f" stroke-width="0.42"/>
<circle cx="163.2" cy="214.7" r="0.86" fill="none" stroke="#474747" stroke-width="0.42"/>
<circle cx="126.9" cy="209.0" r="1.04" fill="none" stroke="#6a6a6a" stroke-width="0.42"/>
<circle cx="170.6" cy="218.7" r="0.70" fill="none" stroke="#818181" stroke-width="0.42"/>
<circle cx="165.6" cy="195.9" r="0.92" fill="none" stroke="#393939" stroke-width="0.42"/>
<circle cx="128.7" cy="240.6" r="0.57" fill="none" stroke="#484848" stroke-width="0.42"/>
<circle cx="173.9" cy="216.9" r="0.61" fill="none" stroke="#414141" stroke-width="0.42"/>
<circle cx="135.2" cy="233.4" r="0.61" fill="none" stroke="#8e8e8e" stroke-width="0.42"/>
<circle cx="142.3" cy="245.0" r="1.05" fill="none" stroke="#4e4e4e" stroke-width="0.42"/>
<circle cx="135.8" cy="219.7" r="0.61" fill="none" stroke="#737373" stroke-width="0.42"/>
<circle cx="124.8" cy="195.8" r="1.09" fill="none" stroke="#4e4e4e" stroke-width="0.42"/>
<circle cx="153.6" cy="218.3" r="0.72" fill="none" stroke="#363636" stroke-width="0.42"/>
<circle cx="170.0" cy="245.0" r="1.08" fill="none" stroke="#3b3b3b" stroke-width="0.42"/>
<circle cx="133.8" cy="226.9" r="1.09" fill="none" stroke="#686868" stroke-width="0.42"/>
<circle cx="158.3" cy="229.2" r="0.69" fill="none" stroke="#686868" stroke-width="0.42"/>
<circle cx="138.6" cy="207.9" r="0.59" fill="none" stroke="#4d4d4d" stroke-width="0.42"/>
<circle cx="173.6" cy="218.2" r="0.91" fill="none" stroke="#727272" stroke-width="0.42"/>
<circle cx="171.4" cy="215.3" r="0.72" fill="none" stroke="#525252" stroke-width="0.42"/>
<circle cx="139.1" cy="238.7" r="1.04" fill="none" stroke="#4f4f4f" stroke-width="0.42"/>
<circle cx="140.0" cy="223.2" r="0.87" fill="none" stroke="#6d6d6d" stroke-width="0.42"/>
<circle cx="135.4" cy="196.3" r="0.68" fill="none" stroke="#373737" stroke-width="0.42"/>
<circle cx="151.3" cy="198.9" r="0.59" fill="none" stroke="#727272" stroke-width="0.42"/>
<circle cx="137.8" cy="235.9" r="0.82" fill="none" stroke="#898989" stroke-width="0.42"/>
<circle cx="130.7" cy="221.0" r="0.99" fill="none" stroke="#383838" stroke-width="0.42"/>
<circle cx="171.9" cy="204.2" r="0.98" fill="none" stroke="#969696" stroke-width="0.42"/>
<circle cx="165.3" cy="211.7" r="0.61" fill="none" stroke="#656565" stroke-width="0.42"/>
<circle cx="170.3" cy="210.3" r="1.04" fill="none" stroke="#3e3e3e" stroke-width="0.42"/>
<circle cx="169.9" cy="196.9" r="0.72" fill="none" stroke="#8d8d8d" stroke-width="0.42"/>
<circle cx="164.3" cy="241.7" r="1.01" fill="none" stroke="#7d7d7d" stroke-width="0.42"/>
<circle cx="158.4" cy="204.4" r="0.79" fill="none" stroke="#404040" stroke-width="0.42"/>
<circle cx="159.7" cy="229.5" r="0.69" fill="none" stroke="#363636" stroke-width="0.42"/>
<circle cx="172.6" cy="236.7" r="0.85" fill="none" stroke="#686868" stroke-width="0.42"/>
<circle cx="166.8" cy="218.5" r="0.77" fill="none" stroke="#535353" stroke-width="0.42"/>
<circle cx="136.1" cy="196.5" r="0.91" fill="none" stroke="#5b5b5b" stroke-width="0.42"/>
<circle cx="152.3" cy="198.5" r="0.75" fill="none" stroke="#3e3e3e" stroke-width="0.42"/>
<circle cx="129.2" cy="208.6" r="1.01" fill="none" stroke="#595959" stroke-width="0.42"/>
<circle cx="143.5" cy="226.7" r="0.68" fill="none" stroke="#303030" stroke-width="0.42"/>
<circle cx="150.1" cy="220.9" r="0.91" fill="none" stroke="#5d5d5d" stroke-width="0.42"/>
<circle cx="158.3" cy="232.7" r="0.68" fill="none" stroke="#636363" stroke-width="0.42"/>
<circle cx="147.5" cy="206.8" r="0.78" fill="none" stroke="#6a6a6a" stroke-width="0.42"/>
<circle cx="169.7" cy="242.3" r="0.70" fill="none" stroke="#737373" stroke-width="0.42"/>
<circle cx="125.2" cy="199.0" r="0.83" fill="none" stroke="#8b8b8b" stroke-width="0.42"/>
<circle cx="131.0" cy="234.5" r="1.04" fill="none" stroke="#505050" stroke-width="0.42"/>
<circle cx="158.6" cy="238.8" r="0.75" fill="none" stroke="#787878" stroke-width="0.42"/>
<circle cx="160.8" cy="225.7" r="1.02" fill="none" stroke="#8d8d8d" stroke-width="0.42"/>
<circle cx="172.4" cy="224.5" r="0.65" fill="none" stroke="#4a4a4a" stroke-width="0.42"/>
<circle cx="134.0" cy="224.5" r="0.97" fill="none" stroke="#353535" stroke-width="0.42"/>
<circle cx="158.0" cy="232.0" r="0.74" fill="none" stroke="#656565" stroke-width="0.42"/>
<circle cx="131.2" cy="232.7" r="0.57" fill="none" stroke="#969696" stroke-width="0.42"/>
<circle cx="164.6" cy="227.5" r="0.70" fill="none" stroke="#8e8e8e" stroke-width="0.42"/>
<circle cx="172.4" cy="202.4" r="0.98" fill="none" stroke="#878787" stroke-width="0.42"/>
<circle cx="156.9" cy="231.2" r="0.79" fill="none" stroke="#909090" stroke-width="0.42"/>
<circle cx="173.0" cy="214.9" r="0.99" fill="none" stroke="#5d5d5d" stroke-width="0.42"/>
<circle cx="131.2" cy="212.0" r="0.62" fill="none" stroke="#8e8e8e" stroke-width="0.42"/>
<circle cx="172.4" cy="201.4" r="0.88" fill="none" stroke="#5a5a5a" stroke-width="0.42"/>
<circle cx="128.8" cy="210.4" r="0.69" fill="none" stroke="#7d7d7d" stroke-width="0.42"/>
<circle cx="122.9" cy="205.0" r="0.79" fill="none" stroke="#323232" stroke-width="0.42"/>
<circle cx="155.2" cy="226.3" r="1.01" fill="none" stroke="#454545" stroke-width="0.42"/>
<circle cx="137.5" cy="223.1" r="0.70" fill="none" stroke="#6c6c6c" stroke-width="0.42"/>
<circle cx="135.7" cy="230.3" r="0.99" fill="none" stroke="#848484" stroke-width="0.42"/>
<circle cx="173.1" cy="223.2" r="0.82" fill="none" stroke="#888888" stroke-width="0.42"/>
<circle cx="162.5" cy="224.5" r="0.76" fill="none" stroke="#4d4d4d" stroke-width="0.42"/>
<circle cx="128.3" cy="236.6" r="0.61" fill="none" stroke="#7d7d7d" stroke-width="0.42"/>
<circle cx="150.9" cy="244.7" r="0.97" fill="none" stroke="#959595" stroke-width="0.42"/>
<circle cx="129.8" cy="220.9" r="0.86" fill="none" stroke="#505050" stroke-width="0.42"/>
<circle cx="148.8" cy="213.6" r="0.84" fill="none" stroke="#303030" stroke-width="0.42"/>
<circle cx="145.6" cy="218.3" r="0.72" fill="none" stroke="#595959" stroke-width="0.42"/>
<circle cx="163.3" cy="230.3" r="0.82" fill="none" stroke="#737373" stroke-width="0.42"/>
<circle cx="142.3" cy="205.7" r="0.55" fill="none" stroke="#4c4c4c" stroke-width="0.42"/>
<circle cx="153.7" cy="240.4" r="1.01" fill="none" stroke="#656565" stroke-width="0.42"/>
<circle cx="173.8" cy="218.9" r="1.01" fill="none" stroke="#5a5a5a" stroke-width="0.42"/>
<circle cx="161.3" cy="245.9" r="0.72" fill="none" stroke="#414141" stroke-width="0.42"/>
<circle cx="154.8" cy="222.5" r="0.75" fill="none" stroke="#303030" stroke-width="0.42"/>
<circle cx="142.9" cy="217.1" r="0.77" fill="none" stroke="#898989" stroke-width="0.42"/>
<circle cx="153.0" cy="232.9" r="1.04" fill="none" stroke="#7d7d7d" stroke-width="0.42"/>
<circle cx="148.2" cy="233.5" r="0.90" fill="none" stroke="#737373" stroke-width="0.42"/>
<circle cx="155.3" cy="216.1" r="0.90" fill="none" stroke="#717171" stroke-width="0.42"/>
<circle cx="171.2" cy="235.4" r="1.02" fill="none" stroke="#7f7f7f" stroke-width="0.42"/>
<circle cx="164.9" cy="226.3" r="0.74" fill="none" stroke="#4b4b4b" stroke-width="0.42"/>
<circle cx="159.4" cy="240.0" r="0.85" fill="none" stroke="#3f3f3f" stroke-width="0.42"/>
<circle cx="165.8" cy="220.1" r="0.81" fill="none" stroke="#343434" stroke-width="0.42"/>
<circle cx="149.1" cy="233.4" r="0.78" fill="none" stroke="#545454" stroke-width="0.42"/>
<circle cx="156.7" cy="196.3" r="0.83" fill="none" stroke="#929292" stroke-width="0.42"/>
<circle cx="158.5" cy="215.9" r="0.93" fill="none" stroke="#6e6e6e" stroke-width="0.42"/>
<circle cx="133.5" cy="205.9" r="1.04" fill="none" stroke="#4b4b4b" stroke-width="0.42"/>
<circle cx="126.6" cy="237.8" r="0.84" fill="none" stroke="#565656" stroke-width="0.42"/>
<circle cx="149.2" cy="233.0" r="0.64" fill="none" stroke="#737373" stroke-width="0.42"/>
<circle cx="159.7" cy="237.0" r="0.70" fill="none" stroke="#6f6f6f" stroke-width="0.42"/>
<circle cx="134.7" cy="224.0" r="0.64" fill="none" stroke="#828282" stroke-width="0.42"/>
<circle cx="167.6" cy="212.2" r="0.67" fill="none" stroke="#949494" stroke-width="0.42"/>
<circle cx="159.3" cy="238.5" r="0.57" fill="none" stroke="#8d8d8d" stroke-width="0.42"/>
<circle cx="154.9" cy="211.5" r="0.79" fill="none" stroke="#7f7f7f" stroke-width="0.42"/>
<circle cx="163.4" cy="205.0" r="0.89" fill="none" stroke="#414141" stroke-width="0.42"/>
<circle cx="173.1" cy="218.0" r="1.05" fill="none" stroke="#7b7b7b" stroke-width="0.42"/>
<circle cx="154.1" cy="208.7" r="0.84" fill="none" stroke="#3e3e3e" stroke-width="0.42"/>
<circle cx="129.9" cy="231.9" r="0.75" fill="none" stroke="#7e7e7e" stroke-width="0.42"/>
<circle cx="135.2" cy="232.1" r="0.95" fill="none" stroke="#4f4f4f" stroke-width="0.42"/>
<circle cx="128.2" cy="215.6" r="0.82" fill="none" stroke="#3a3a3a" stroke-width="0.42"/>
<circle cx="132.4" cy="198.1" r="0.88" fill="none" stroke="#8c8c8c" stroke-width="0.42"/>
<circle cx="133.9" cy="197.1" r="0.94" fill="none" stroke="#848484" stroke-width="0.42"/>
<circle cx="172.6" cy="226.7" r="0.74" fill="none" stroke="#878787" stroke-width="0.42"/>
<circle cx="128.8" cy="230.8" r="0.60" fill="none" stroke="#595959" stroke-width="0.42"/>
<circle cx="148.3" cy="214.6" r="0.64" fill="none" stroke="#484848" stroke-width="0.42"/>
<circle cx="165.2" cy="219.0" r="0.87" fill="none" stroke="#464646" stroke-width="0.42"/>
<circle cx="159.7" cy="212.2" r="0.88" fill="none" stroke="#8e8e8e" stroke-width="0.42"/>
<circle cx="174.2" cy="197.7" r="0.99" fill="none" stroke="#898989" stroke-width="0.42"/>
<circle cx="139.3" cy="214.9" r="0.87" fill="none" stroke="#8f8f8f" stroke-width="0.42"/>
<circle cx="143.4" cy="240.4" r="0.97" fill="none" stroke="#3f3f3f" stroke-width="0.42"/>
<circle cx="170.0" cy="196.1" r="0.63" fill="none" stroke="#757575" stroke-width="0.42"/>
<circle cx="125.7" cy="214.7" r="0.62" fill="none" stroke="#606060" stroke-width="0.42"/>
<circle cx="166.2" cy="241.7" r="0.57" fill="none" stroke="#363636" stroke-width="0.42"/>
<circle cx="166.2" cy="197.5" r="0.70" fill="none" stroke="#3c3c3c" stroke-width="0.42"/>
<circle cx="127.4" cy="196.7" r="0.90" fill="none" stroke="#7d7d7d" stroke-width="0.42"/>
<circle cx="158.3" cy="238.6" r="0.91" fill="none" stroke="#585858" stroke-width="0.42"/>
<circle cx="155.4" cy="244.9" r="0.90" fill="none" stroke="#494949" stroke-width="0.42"/>
<circle cx="125.8" cy="243.2" r="0.87" fill="none" stroke="#545454" stroke-width="0.42"/>
<circle cx="154.1" cy="224.0" r="0.84" fill="none" stroke="#363636" stroke-width="0.42"/>
<circle cx="141.0" cy="216.4" r="0.66" fill="none" stroke="#8b8b8b" stroke-width="0.42"/>
<circle cx="144.7" cy="229.2" r="0.94" fill="none" stroke="#7d7d7d" stroke-width="0.42"/>
<circle cx="160.1" cy="233.8" r="0.69" fill="none" stroke="#959595" stroke-width="0.42"/>
<circle cx="130.5" cy="242.3" r="1.02" fill="none" stroke="#888888" stroke-width="0.42"/>
<circle cx="125.4" cy="200.0" r="1.00" fill="none" stroke="#606060" stroke-width="0.42"/>
<circle cx="141.9" cy="245.7" r="0.57" fill="none" stroke="#676767" stroke-width="0.42"/>
<circle cx="145.7" cy="201.9" r="0.77" fill="none" stroke="#797979" stroke-width="0.42"/>
<circle cx="168.4" cy="196.6" r="0.84" fill="none" stroke="#393939" stroke-width="0.42"/>
<circle cx="164.2" cy="199.7" r="0.57" fill="none" stroke="#575757" stroke-width="0.42"/>
<circle cx="160.6" cy="211.3" r="0.62" fill="none" stroke="#828282" stroke-width="0.42"/>
<circle cx="164.5" cy="239.1" r="0.72" fill="none" stroke="#5c5c5c" stroke-width="0.42"/>
<circle cx="135.4" cy="223.8" r="0.73" fill="none" stroke="#535353" stroke-width="0.42"/>
<circle cx="163.3" cy="244.3" r="0.87" fill="none" stroke="#3a3a3a" stroke-width="0.42"/>
<circle cx="156.5" cy="218.3" r="1.09" fill="none" stroke="#7a7a7a" stroke-width="0.42"/>
<circle cx="165.9" cy="231.2" r="0.84" fill="none" stroke="#8d8d8d" stroke-width="0.42"/>
<circle cx="165.8" cy="210.2" r="0.64" fill="none" stroke="#565656" stroke-width="0.42"/>
<circle cx="149.7" cy="200.3" r="0.74" fill="none" stroke="#6b6b6b" stroke-width="0.42"/>
<circle cx="125.0" cy="237.0" r="0.91" fill="none" stroke="#505050" stroke-width="0.42"/>
<circle cx="138.2" cy="213.4" r="0.73" fill="none" stroke="#7d7d7d" stroke-width="0.42"/>
<circle cx="148.7" cy="222.2" r="0.63" fill="none" stroke="#8f8f8f" stroke-width="0.42"/>
<circle cx="139.6" cy="212.1" r="0.59" fill="none" stroke="#959595" stroke-width="0.42"/>
<circle cx="147.5" cy="242.0" r="1.06" fill="none" stroke="#949494" stroke-width="0.42"/>
<circle cx="164.9" cy="242.7" r="1.06" fill="none" stroke="#838383" stroke-width="0.42"/>
<circle cx="129.7" cy="222.1" r="0.87" fill="none" stroke="#979797" stroke-width="0.42"/>
<circle cx="163.3" cy="231.3" r="0.96" fill="none" stroke="#555555" stroke-width="0.42"/>
<circle cx="171.5" cy="228.2" r="0.77" fill="none" stroke="#606060" stroke-width="0.42"/>
<circle cx="173.5" cy="222.5" r="0.64" fill="none" stroke="#3f3f3f" stroke-width="0.42"/>
<circle cx="158.3" cy="224.1" r="1.05" fill="none" stroke="#434343" stroke-width="0.42"/>
<circle cx="144.0" cy="232.6" r="0.58" fill="none" stroke="#3a3a3a" stroke-width="0.42"/>
<circle cx="151.0" cy="208.9" r="0.61" fill="none" stroke="#4b4b4b" stroke-width="0.42"/>
<circle cx="155.4" cy="222.3" r="0.59" fill="none" stroke="#373737" stroke-width="0.42"/>
<circle cx="166.8" cy="228.2" r="0.65" fill="none" stroke="#898989" stroke-width="0.42"/>
<circle cx="123.8" cy="214.1" r="1.02" fill="none" stroke="#797979" stroke-width="0.42"/>
<circle cx="137.4" cy="240.9" r="0.88" fill="none" stroke="#8a8a8a" stroke-width="0.42"/>
<circle cx="168.9" cy="217.1" r="0.92" fill="none" stroke="#686868" stroke-width="0.42"/>
<circle cx="171.6" cy="236.2" r="0.95" fill="none" stroke="#848484" stroke-width="0.42"/>
<circle cx="174.4" cy="208.4" r="0.66" fill="none" stroke="#7d7d7d" stroke-width="0.42"/>
<circle cx="162.6" cy="221.6" r="0.82" fill="none" stroke="#595959" stroke-width="0.42"/>
<circle cx="168.4" cy="236.1" r="0.87" fill="none" stroke="#343434" stroke-width="0.42"/>
<circle cx="166.8" cy="218.8" r="0.65" fill="none" stroke="#4f4f4f" stroke-width="0.42"/>
<circle cx="158.5" cy="195.6" r="0.62" fill="none" stroke="#4f4f4f" stroke-width="0.42"/>
<circle cx="168.7" cy="233.5" r="1.08" fill="none" stroke="#686868" stroke-width="0.42"/>
<circle cx="152.3" cy="223.5" r="0.84" fill="none" stroke="#686868" stroke-width="0.42"/>
<circle cx="165.1" cy="244.1" r="0.77" fill="none" stroke="#717171" stroke-width="0.42"/>
<circle cx="138.6" cy="210.8" r="0.83" fill="none" stroke="#6c6c6c" stroke-width="0.42"/>
<circle cx="151.2" cy="245.3" r="0.64" fill="none" stroke="#727272" stroke-width="0.42"/>
<circle cx="174.2" cy="233.0" r="0.86" fill="none" stroke="#565656" stroke-width="0.42"/>
<circle cx="143.5" cy="243.2" r="1.04" fill="none" stroke="#757575" stroke-width="0.42"/>
<circle cx="169.3" cy="242.7" r="1.02" fill="none" stroke="#575757" stroke-width="0.42"/>
<circle cx="146.8" cy="236.1" r="0.75" fill="none" stroke="#7d7d7d" stroke-width="0.42"/>
<circle cx="147.6" cy="212.5" r="0.80" fill="none" stroke="#3c3c3c" stroke-width="0.42"/>
<circle cx="141.1" cy="216.6" r="0.56" fill="none" stroke="#414141" stroke-width="0.42"/>
<circle cx="136.2" cy="239.2" r="0.87" fill="none" stroke="#4d4d4d" stroke-width="0.42"/>
<circle cx="174.4" cy="208.5" r="0.83" fill="none" stroke="#7c7c7c" stroke-width="0.42"/>
<circle cx="158.5" cy="217.5" r="0.98" fill="none" stroke="#626262" stroke-width="0.42"/>
<circle cx="159.8" cy="220.5" r="1.08" fill="none" stroke="#7a7a7a" stroke-width="0.42"/>
<circle cx="127.4" cy="201.9" r="1.08" fill="none" stroke="#474747" stroke-width="0.42"/>
<circle cx="124.1" cy="208.3" r="0.81" fill="none" stroke="#939393" stroke-width="0.42"/>
<circle cx="143.4" cy="232.3" r="1.01" fill="none" stroke="#393939" stroke-width="0.42"/>
<circle cx="154.4" cy="246.3" r="0.85" fill="none" stroke="#676767" stroke-width="0.42"/>
<circle cx="140.7" cy="243.7" r="1.08" fill="none" stroke="#3a3a3a" stroke-width="0.42"/>
<circle cx="151.3" cy="216.8" r="0.92" fill="none" stroke="#3c3c3c" stroke-width="0.42"/>
<circle cx="136.4" cy="209.6" r="0.81" fill="none" stroke="#828282" stroke-width="0.42"/>
<circle cx="167.1" cy="235.6" r="0.92" fill="none" stroke="#393939" stroke-width="0.42"/>
<circle cx="142.9" cy="229.5" r="0.71" fill="none" stroke="#646464" stroke-width="0.42"/>
<circle cx="169.6" cy="201.2" r="1.02" fill="none" stroke="#3b3b3b" stroke-width="0.42"/>
<circle cx="142.7" cy="241.7" r="0.66" fill="none" stroke="#666666" stroke-width="0.42"/>
<circle cx="144.3" cy="240.8" r="1.10" fill="none" stroke="#4e4e4e" stroke-width="0.42"/>
<circle cx="148.2" cy="241.1" r="0.85" fill="none" stroke="#464646" stroke-width="0.42"/>
<circle cx="162.1" cy="212.6" r="0.82" fill="none" stroke="#303030" stroke-width="0.42"/>
<circle cx="173.9" cy="229.0" r="1.06" fill="none" stroke="#949494" stroke-width="0.42"/>
<circle cx="136.6" cy="223.0" r="0.79" fill="none" stroke="#7f7f7f" stroke-width="0.42"/>
<circle cx="166.3" cy="207.0" r="0.70" fill="none" stroke="#797979" stroke-width="0.42"/>
</g>
<line x1="166.60" y1="242.60" x2="170.00" y2="242.60" stroke="#c8c8c8" stroke-width="0.6"/>
<rect x="179.50" y="194.80" width="52.80" height="52.20" fill="#0b0b0b"/>
<g clip-path="url(#c2)" filter="url(#b05)">
<clipPath id="c2"><rect x="179.5" y="194.8" width="52.8" height="52.2"/></clipPath>
<circle cx="229.5" cy="243.8" r="0.58" fill="none" stroke="#383838" stroke-width="0.42"/>
<circle cx="223.3" cy="233.0" r="0.92" fill="none" stroke="#505050" stroke-width="0.42"/>
<circle cx="211.4" cy="226.4" r="0.87" fill="none" stroke="#404040" stroke-width="0.42"/>
<circle cx="202.3" cy="215.4" r="0.95" fill="none" stroke="#979797" stroke-width="0.42"/>
<circle cx="229.2" cy="223.2" r="0.79" fill="none" stroke="#4b4b4b" stroke-width="0.42"/>
<circle cx="181.9" cy="196.7" r="0.81" fill="none" stroke="#515151" stroke-width="0.42"/>
<circle cx="199.7" cy="241.0" r="0.84" fill="none" stroke="#6a6a6a" stroke-width="0.42"/>
<circle cx="192.2" cy="196.5" r="0.73" fill="none" stroke="#3e3e3e" stroke-width="0.42"/>
<circle cx="206.4" cy="246.4" r="0.92" fill="none" stroke="#424242" stroke-width="0.42"/>
<circle cx="226.3" cy="236.1" r="0.95" fill="none" stroke="#8e8e8e" stroke-width="0.42"/>
<circle cx="219.5" cy="235.7" r="0.74" fill="none" stroke="#969696" stroke-width="0.42"/>
<circle cx="229.8" cy="203.6" r="0.96" fill="none" stroke="#7a7a7a" stroke-width="0.42"/>
<circle cx="203.9" cy="222.5" r="0.82" fill="none" stroke="#909090" stroke-width="0.42"/>
<circle cx="205.9" cy="237.9" r="0.74" fill="none" stroke="#8b8b8b" stroke-width="0.42"/>
<circle cx="226.6" cy="218.9" r="0.86" fill="none" stroke="#8f8f8f" stroke-width="0.42"/>
<circle cx="217.5" cy="220.2" r="0.67" fill="none" stroke="#515151" stroke-width="0.42"/>
<circle cx="216.2" cy="203.8" r="1.05" fill="none" stroke="#4b4b4b" stroke-width="0.42"/>
<circle cx="227.2" cy="211.1" r="1.08" fill="none" stroke="#797979" stroke-width="0.42"/>
<circle cx="206.1" cy="221.8" r="0.91" fill="none" stroke="#6d6d6d" stroke-width="0.42"/>
<circle cx="196.2" cy="205.9" r="0.83" fill="none" stroke="#919191" stroke-width="0.42"/>
<circle cx="212.3" cy="199.2" r="1.00" fill="none" stroke="#7b7b7b" stroke-width="0.42"/>
<circle cx="227.0" cy="205.1" r="0.96" fill="none" stroke="#363636" stroke-width="0.42"/>
<circle cx="213.8" cy="209.3" r="0.67" fill="none" stroke="#8b8b8b" stroke-width="0.42"/>
<circle cx="185.5" cy="222.0" r="1.02" fill="none" stroke="#494949" stroke-width="0.42"/>
<circle cx="190.9" cy="240.4" r="0.78" fill="none" stroke="#7a7a7a" stroke-width="0.42"/>
<circle cx="181.7" cy="213.9" r="0.64" fill="none" stroke="#757575" stroke-width="0.42"/>
<circle cx="184.3" cy="244.2" r="0.56" fill="none" stroke="#7b7b7b" stroke-width="0.42"/>
<circle cx="181.1" cy="208.4" r="1.00" fill="none" stroke="#404040" stroke-width="0.42"/>
<circle cx="189.5" cy="230.7" r="0.76" fill="none" stroke="#343434" stroke-width="0.42"/>
<circle cx="231.3" cy="203.1" r="0.57" fill="none" stroke="#535353" stroke-width="0.42"/>
<circle cx="211.9" cy="233.3" r="0.61" fill="none" stroke="#535353" stroke-width="0.42"/>
<circle cx="181.6" cy="218.3" r="0.97" fill="none" stroke="#7c7c7c" stroke-width="0.42"/>
<circle cx="226.7" cy="234.0" r="1.02" fill="none" stroke="#797979" stroke-width="0.42"/>
<circle cx="204.5" cy="206.8" r="0.91" fill="none" stroke="#505050" stroke-width="0.42"/>
<circle cx="185.3" cy="218.2" r="1.03" fill="none" stroke="#3d3d3d" stroke-width="0.42"/>
<circle cx="210.3" cy="215.4" r="0.83" fill="none" stroke="#3e3e3e" stroke-width="0.42"/>
<circle cx="229.7" cy="208.6" r="0.88" fill="none" stroke="#5b5b5b" stroke-width="0.42"/>
<circle cx="180.9" cy="223.9" r="0.63" fill="none" stroke="#353535" stroke-width="0.42"/>
<circle cx="181.7" cy="203.6" r="0.60" fill="none" stroke="#727272" stroke-width="0.42"/>
<circle cx="206.3" cy="245.7" r="1.06" fill="none" stroke="#979797" stroke-width="0.42"/>
<circle cx="192.0" cy="218.1" r="0.69" fill="none" stroke="#6d6d6d" stroke-width="0.42"/>
<circle cx="212.3" cy="236.3" r="0.94" fill="none" stroke="#4a4a4a" stroke-width="0.42"/>
<circle cx="201.9" cy="222.2" r="0.55" fill="none" stroke="#333333" stroke-width="0.42"/>
<circle cx="201.2" cy="201.0" r="0.95" fill="none" stroke="#494949" stroke-width="0.42"/>
<circle cx="185.2" cy="204.6" r="0.68" fill="none" stroke="#464646" stroke-width="0.42"/>
<circle cx="207.0" cy="219.1" r="0.72" fill="none" stroke="#727272" stroke-width="0.42"/>
<circle cx="191.0" cy="241.7" r="1.08" fill="none" stroke="#7b7b7b" stroke-width="0.42"/>
<circle cx="202.5" cy="221.5" r="0.87" fill="none" stroke="#353535" stroke-width="0.42"/>
<circle cx="201.7" cy="222.2" r="0.65" fill="none" stroke="#393939" stroke-width="0.42"/>
<circle cx="221.6" cy="214.0" r="0.84" fill="none" stroke="#8f8f8f" stroke-width="0.42"/>
<circle cx="211.6" cy="210.1" r="1.09" fill="none" stroke="#565656" stroke-width="0.42"/>
<circle cx="181.0" cy="230.4" r="0.61" fill="none" stroke="#4f4f4f" stroke-width="0.42"/>
<circle cx="223.5" cy="229.7" r="0.56" fill="none" stroke="#5e5e5e" stroke-width="0.42"/>
<circle cx="201.3" cy="220.2" r="0.66" fill="none" stroke="#6d6d6d" stroke-width="0.42"/>
<circle cx="183.8" cy="209.9" r="0.76" fill="none" stroke="#919191" stroke-width="0.42"/>
<circle cx="184.0" cy="234.0" r="0.66" fill="none" stroke="#6b6b6b" stroke-width="0.42"/>
<circle cx="200.3" cy="219.0" r="0.96" fill="none" stroke="#595959" stroke-width="0.42"/>
<circle cx="186.3" cy="201.5" r="0.59" fill="none" stroke="#888888" stroke-width="0.42"/>
<circle cx="213.2" cy="244.4" r="0.93" fill="none" stroke="#323232" stroke-width="0.42"/>
<circle cx="214.1" cy="235.1" r="0.95" fill="none" stroke="#636363" stroke-width="0.42"/>
<circle cx="198.5" cy="218.7" r="0.99" fill="none" stroke="#4b4b4b" stroke-width="0.42"/>
<circle cx="207.3" cy="219.8" r="1.08" fill="none" stroke="#838383" stroke-width="0.42"/>
<circle cx="228.3" cy="238.1" r="0.71" fill="none" stroke="#484848" stroke-width="0.42"/>
<circle cx="205.3" cy="208.6" r="0.79" fill="none" stroke="#767676" stroke-width="0.42"/>
<circle cx="227.6" cy="225.3" r="1.00" fill="none" stroke="#393939" stroke-width="0.42"/>
<circle cx="198.4" cy="246.4" r="0.63" fill="none" stroke="#5b5b5b" stroke-width="0.42"/>
<circle cx="183.5" cy="199.7" r="1.04" fill="none" stroke="#969696" stroke-width="0.42"/>
<circle cx="213.6" cy="201.9" r="0.71" fill="none" stroke="#484848" stroke-width="0.42"/>
<circle cx="214.7" cy="230.2" r="0.79" fill="none" stroke="#666666" stroke-width="0.42"/>
<circle cx="185.8" cy="223.0" r="1.07" fill="none" stroke="#7e7e7e" stroke-width="0.42"/>
<circle cx="185.0" cy="221.7" r="0.94" fill="none" stroke="#4a4a4a" stroke-width="0.42"/>
<circle cx="226.4" cy="218.9" r="0.94" fill="none" stroke="#5a5a5a" stroke-width="0.42"/>
<circle cx="231.5" cy="235.4" r="0.87" fill="none" stroke="#3f3f3f" stroke-width="0.42"/>
<circle cx="202.9" cy="196.8" r="0.88" fill="none" stroke="#8b8b8b" stroke-width="0.42"/>
<circle cx="189.3" cy="221.4" r="0.82" fill="none" stroke="#5a5a5a" stroke-width="0.42"/>
<circle cx="216.8" cy="243.3" r="0.94" fill="none" stroke="#616161" stroke-width="0.42"/>
<circle cx="229.8" cy="212.2" r="0.96" fill="none" stroke="#747474" stroke-width="0.42"/>
<circle cx="219.5" cy="238.9" r="0.67" fill="none" stroke="#707070" stroke-width="0.42"/>
<circle cx="200.9" cy="229.4" r="1.09" fill="none" stroke="#727272" stroke-width="0.42"/>
<circle cx="180.6" cy="219.1" r="0.94" fill="none" stroke="#8b8b8b" stroke-width="0.42"/>
<circle cx="213.7" cy="237.1" r="0.56" fill="none" stroke="#929292" stroke-width="0.42"/>
<circle cx="217.8" cy="226.3" r="1.05" fill="none" stroke="#8c8c8c" stroke-width="0.42"/>
<circle cx="185.2" cy="237.1" r="0.97" fill="none" stroke="#444444" stroke-width="0.42"/>
<circle cx="218.6" cy="225.3" r="0.66" fill="none" stroke="#838383" stroke-width="0.42"/>
<circle cx="187.1" cy="226.7" r="0.79" fill="none" stroke="#4a4a4a" stroke-width="0.42"/>
<circle cx="209.3" cy="219.2" r="0.66" fill="none" stroke="#949494" stroke-width="0.42"/>
<circle cx="183.8" cy="195.5" r="0.82" fill="none" stroke="#878787" stroke-width="0.42"/>
<circle cx="214.1" cy="233.9" r="0.82" fill="none" stroke="#767676" stroke-width="0.42"/>
<circle cx="197.3" cy="209.0" r="0.83" fill="none" stroke="#323232" stroke-width="0.42"/>
<circle cx="184.1" cy="233.9" r="0.65" fill="none" stroke="#7e7e7e" stroke-width="0.42"/>
<circle cx="220.6" cy="216.0" r="0.92" fill="none" stroke="#818181" stroke-width="0.42"/>
<circle cx="224.8" cy="202.2" r="0.64" fill="none" stroke="#575757" stroke-width="0.42"/>
<circle cx="204.1" cy="210.4" r="0.56" fill="none" stroke="#696969" stroke-width="0.42"/>
<circle cx="230.1" cy="214.1" r="0.85" fill="none" stroke="#575757" stroke-width="0.42"/>
<circle cx="202.9" cy="239.9" r="0.72" fill="none" stroke="#737373" stroke-width="0.42"/>
<circle cx="205.1" cy="222.9" r="1.05" fill="none" stroke="#373737" stroke-width="0.42"/>
<circle cx="222.7" cy="210.9" r="0.91" fill="none" stroke="#828282" stroke-width="0.42"/>
<circle cx="213.8" cy="215.4" r="1.01" fill="none" stroke="#393939" stroke-width="0.42"/>
<circle cx="212.8" cy="215.3" r="0.84" fill="none" stroke="#888888" stroke-width="0.42"/>
<circle cx="221.3" cy="227.5" r="0.72" fill="none" stroke="#484848" stroke-width="0.42"/>
<circle cx="203.7" cy="207.2" r="0.70" fill="none" stroke="#939393" stroke-width="0.42"/>
<circle cx="185.8" cy="237.2" r="0.76" fill="none" stroke="#555555" stroke-width="0.42"/>
<circle cx="196.5" cy="199.3" r="0.80" fill="none" stroke="#414141" stroke-width="0.42"/>
<circle cx="202.9" cy="210.2" r="1.04" fill="none" stroke="#8f8f8f" stroke-width="0.42"/>
<circle cx="202.9" cy="228.0" r="1.06" fill="none" stroke="#515151" stroke-width="0.42"/>
<circle cx="185.2" cy="207.5" r="0.65" fill="none" stroke="#767676" stroke-width="0.42"/>
<circle cx="199.4" cy="213.5" r="0.99" fill="none" stroke="#484848" stroke-width="0.42"/>
<circle cx="221.9" cy="227.7" r="0.77" fill="none" stroke="#858585" stroke-width="0.42"/>
<circle cx="197.7" cy="240.3" r="1.06" fill="none" stroke="#646464" stroke-width="0.42"/>
<circle cx="215.7" cy="243.9" r="0.96" fill="none" stroke="#7e7e7e" stroke-width="0.42"/>
<circle cx="225.0" cy="243.2" r="0.96" fill="none" stroke="#959595" stroke-width="0.42"/>
<circle cx="195.1" cy="227.2" r="0.92" fill="none" stroke="#565656" stroke-width="0.42"/>
<circle cx="200.5" cy="204.2" r="1.08" fill="none" stroke="#545454" stroke-width="0.42"/>
<circle cx="204.7" cy="241.1" r="0.65" fill="none" stroke="#939393" stroke-width="0.42"/>
<circle cx="186.6" cy="196.7" r="0.74" fill="none" stroke="#555555" stroke-width="0.42"/>
<circle cx="227.5" cy="240.5" r="0.97" fill="none" stroke="#5d5d5d" stroke-width="0.42"/>
<circle cx="208.1" cy="207.4" r="1.01" fill="none" stroke="#585858" stroke-width="0.42"/>
<circle cx="194.7" cy="228.0" r="0.63" fill="none" stroke="#505050" stroke-width="0.42"/>
<circle cx="228.0" cy="200.2" r="0.63" fill="none" stroke="#454545" stroke-width="0.42"/>
<circle cx="193.0" cy="216.8" r="0.69" fill="none" stroke="#535353" stroke-width="0.42"/>
<circle cx="192.8" cy="207.6" r="0.89" fill="none" stroke="#525252" stroke-width="0.42"/>
<circle cx="199.3" cy="234.6" r="0.58" fill="none" stroke="#3e3e3e" stroke-width="0.42"/>
<circle cx="224.1" cy="217.3" r="0.98" fill="none" stroke="#3d3d3d" stroke-width="0.42"/>
<circle cx="207.1" cy="238.6" r="0.74" fill="none" stroke="#7f7f7f" stroke-width="0.42"/>
<circle cx="211.6" cy="215.5" r="1.10" fill="none" stroke="#585858" stroke-width="0.42"/>
<circle cx="204.5" cy="227.0" r="0.72" fill="none" stroke="#878787" stroke-width="0.42"/>
<circle cx="211.0" cy="225.4" r="0.85" fill="none" stroke="#969696" stroke-width="0.42"/>
<circle cx="231.2" cy="238.3" r="0.80" fill="none" stroke="#5a5a5a" stroke-width="0.42"/>
<circle cx="207.2" cy="197.7" r="0.61" fill="none" stroke="#979797" stroke-width="0.42"/>
<circle cx="186.6" cy="243.3" r="0.92" fill="none" stroke="#8f8f8f" stroke-width="0.42"/>
<circle cx="184.0" cy="211.0" r="0.99" fill="none" stroke="#303030" stroke-width="0.42"/>
<circle cx="185.5" cy="213.3" r="0.65" fill="none" stroke="#3f3f3f" stroke-width="0.42"/>
<circle cx="214.7" cy="200.0" r="1.08" fill="none" stroke="#737373" stroke-width="0.42"/>
<circle cx="182.6" cy="241.3" r="0.68" fill="none" stroke="#626262" stroke-width="0.42"/>
<circle cx="208.9" cy="202.4" r="0.83" fill="none" stroke="#363636" stroke-width="0.42"/>
<circle cx="190.3" cy="242.3" r="1.00" fill="none" stroke="#666666" stroke-width="0.42"/>
<circle cx="215.3" cy="240.1" r="0.63" fill="none" stroke="#636363" stroke-width="0.42"/>
<circle cx="186.8" cy="201.3" r="0.61" fill="none" stroke="#464646" stroke-width="0.42"/>
<circle cx="182.8" cy="206.3" r="0.76" fill="none" stroke="#707070" stroke-width="0.42"/>
<circle cx="224.5" cy="241.6" r="0.94" fill="none" stroke="#646464" stroke-width="0.42"/>
<circle cx="227.5" cy="203.6" r="0.61" fill="none" stroke="#858585" stroke-width="0.42"/>
<circle cx="212.5" cy="206.1" r="0.76" fill="none" stroke="#4e4e4e" stroke-width="0.42"/>
<circle cx="202.3" cy="217.2" r="0.77" fill="none" stroke="#828282" stroke-width="0.42"/>
<circle cx="222.0" cy="224.1" r="0.81" fill="none" stroke="#4d4d4d" stroke-width="0.42"/>
<circle cx="219.6" cy="245.8" r="0.68" fill="none" stroke="#797979" stroke-width="0.42"/>
<circle cx="216.2" cy="229.0" r="0.57" fill="none" stroke="#696969" stroke-width="0.42"/>
<circle cx="190.5" cy="205.3" r="0.87" fill="none" stroke="#737373" stroke-width="0.42"/>
<circle cx="212.4" cy="233.3" r="0.94" fill="none" stroke="#616161" stroke-width="0.42"/>
<circle cx="182.5" cy="234.8" r="1.00" fill="none" stroke="#868686" stroke-width="0.42"/>
<circle cx="211.0" cy="197.3" r="0.66" fill="none" stroke="#3b3b3b" stroke-width="0.42"/>
<circle cx="212.9" cy="223.2" r="0.65" fill="none" stroke="#939393" stroke-width="0.42"/>
<circle cx="230.7" cy="241.3" r="0.81" fill="none" stroke="#4e4e4e" stroke-width="0.42"/>
<circle cx="190.8" cy="237.5" r="0.94" fill="none" stroke="#4c4c4c" stroke-width="0.42"/>
<circle cx="226.7" cy="224.4" r="0.78" fill="none" stroke="#5b5b5b" stroke-width="0.42"/>
<circle cx="217.3" cy="218.6" r="0.91" fill="none" stroke="#3c3c3c" stroke-width="0.42"/>
<circle cx="216.4" cy="209.2" r="1.05" fill="none" stroke="#464646" stroke-width="0.42"/>
<circle cx="197.3" cy="222.8" r="0.77" fill="none" stroke="#666666" stroke-width="0.42"/>
<circle cx="227.9" cy="205.6" r="0.97" fill="none" stroke="#787878" stroke-width="0.42"/>
<circle cx="220.7" cy="218.2" r="0.80" fill="none" stroke="#535353" stroke-width="0.42"/>
<circle cx="204.5" cy="208.3" r="0.65" fill="none" stroke="#616161" stroke-width="0.42"/>
<circle cx="190.0" cy="219.3" r="0.87" fill="none" stroke="#505050" stroke-width="0.42"/>
<circle cx="188.8" cy="226.3" r="1.02" fill="none" stroke="#474747" stroke-width="0.42"/>
<circle cx="211.9" cy="229.0" r="1.04" fill="none" stroke="#767676" stroke-width="0.42"/>
<circle cx="195.9" cy="205.9" r="1.01" fill="none" stroke="#4f4f4f" stroke-width="0.42"/>
<circle cx="180.7" cy="239.9" r="0.66" fill="none" stroke="#505050" stroke-width="0.42"/>
<circle cx="196.5" cy="208.4" r="0.95" fill="none" stroke="#535353" stroke-width="0.42"/>
<circle cx="202.8" cy="216.8" r="1.01" fill="none" stroke="#313131" stroke-width="0.42"/>
<circle cx="210.0" cy="202.1" r="0.63" fill="none" stroke="#6f6f6f" stroke-width="0.42"/>
<circle cx="199.5" cy="198.6" r="0.87" fill="none" stroke="#8f8f8f" stroke-width="0.42"/>
<circle cx="213.4" cy="220.7" r="0.99" fill="none" stroke="#8f8f8f" stroke-width="0.42"/>
<circle cx="187.8" cy="210.6" r="1.08" fill="none" stroke="#909090" stroke-width="0.42"/>
<circle cx="190.5" cy="231.3" r="1.03" fill="none" stroke="#6d6d6d" stroke-width="0.42"/>
<circle cx="216.4" cy="222.1" r="0.68" fill="none" stroke="#464646" stroke-width="0.42"/>
<circle cx="183.2" cy="229.4" r="0.63" fill="none" stroke="#707070" stroke-width="0.42"/>
<circle cx="200.3" cy="217.6" r="1.08" fill="none" stroke="#585858" stroke-width="0.42"/>
<circle cx="204.6" cy="214.8" r="0.67" fill="none" stroke="#474747" stroke-width="0.42"/>
<circle cx="207.6" cy="237.2" r="0.60" fill="none" stroke="#929292" stroke-width="0.42"/>
<circle cx="214.9" cy="198.1" r="0.94" fill="none" stroke="#595959" stroke-width="0.42"/>
<circle cx="206.7" cy="200.5" r="0.83" fill="none" stroke="#666666" stroke-width="0.42"/>
<circle cx="220.5" cy="225.0" r="0.94" fill="none" stroke="#7c7c7c" stroke-width="0.42"/>
<circle cx="191.5" cy="196.6" r="0.81" fill="none" stroke="#3d3d3d" stroke-width="0.42"/>
<circle cx="187.3" cy="211.8" r="0.85" fill="none" stroke="#707070" stroke-width="0.42"/>
<circle cx="213.5" cy="243.6" r="0.61" fill="none" stroke="#6a6a6a" stroke-width="0.42"/>
<circle cx="184.5" cy="229.6" r="0.79" fill="none" stroke="#3e3e3e" stroke-width="0.42"/>
<circle cx="196.1" cy="229.1" r="0.81" fill="none" stroke="#929292" stroke-width="0.42"/>
<circle cx="198.4" cy="212.7" r="1.06" fill="none" stroke="#6f6f6f" stroke-width="0.42"/>
<circle cx="185.5" cy="235.5" r="0.75" fill="none" stroke="#929292" stroke-width="0.42"/>
<circle cx="212.9" cy="236.5" r="1.04" fill="none" stroke="#646464" stroke-width="0.42"/>
<circle cx="230.1" cy="196.6" r="0.74" fill="none" stroke="#878787" stroke-width="0.42"/>
<circle cx="180.4" cy="229.7" r="1.10" fill="none" stroke="#7a7a7a" stroke-width="0.42"/>
<circle cx="224.7" cy="199.2" r="0.85" fill="none" stroke="#6f6f6f" stroke-width="0.42"/>
<circle cx="202.6" cy="216.8" r="0.98" fill="none" stroke="#404040" stroke-width="0.42"/>
<circle cx="182.3" cy="225.7" r="1.08" fill="none" stroke="#868686" stroke-width="0.42"/>
<circle cx="214.9" cy="210.4" r="1.05" fill="none" stroke="#343434" stroke-width="0.42"/>
<circle cx="192.8" cy="235.6" r="1.04" fill="none" stroke="#595959" stroke-width="0.42"/>
<circle cx="227.1" cy="201.0" r="0.88" fill="none" stroke="#373737" stroke-width="0.42"/>
<circle cx="192.1" cy="205.0" r="0.55" fill="none" stroke="#5a5a5a" stroke-width="0.42"/>
<circle cx="205.9" cy="209.7" r="0.91" fill="none" stroke="#353535" stroke-width="0.42"/>
<circle cx="206.8" cy="222.3" r="0.77" fill="none" stroke="#8f8f8f" stroke-width="0.42"/>
<circle cx="186.6" cy="217.2" r="0.80" fill="none" stroke="#565656" stroke-width="0.42"/>
<circle cx="230.4" cy="224.6" r="0.83" fill="none" stroke="#5d5d5d" stroke-width="0.42"/>
<circle cx="202.7" cy="244.0" r="0.99" fill="none" stroke="#737373" stroke-width="0.42"/>
<circle cx="188.4" cy="225.7" r="0.62" fill="none" stroke="#545454" stroke-width="0.42"/>
<circle cx="181.2" cy="231.4" r="1.09" fill="none" stroke="#727272" stroke-width="0.42"/>
<circle cx="209.5" cy="208.1" r="0.79" fill="none" stroke="#606060" stroke-width="0.42"/>
<circle cx="201.9" cy="209.1" r="0.67" fill="none" stroke="#7e7e7e" stroke-width="0.42"/>
<circle cx="229.3" cy="237.3" r="0.89" fill="none" stroke="#323232" stroke-width="0.42"/>
<circle cx="195.7" cy="238.3" r="1.08" fill="none" stroke="#686868" stroke-width="0.42"/>
<circle cx="209.5" cy="230.4" r="0.69" fill="none" stroke="#7a7a7a" stroke-width="0.42"/>
<circle cx="198.9" cy="238.7" r="0.80" fill="none" stroke="#747474" stroke-width="0.42"/>
<circle cx="208.8" cy="222.7" r="0.80" fill="none" stroke="#939393" stroke-width="0.42"/>
<circle cx="219.1" cy="216.8" r="0.83" fill="none" stroke="#8d8d8d" stroke-width="0.42"/>
<circle cx="218.7" cy="228.7" r="1.08" fill="none" stroke="#3c3c3c" stroke-width="0.42"/>
<circle cx="211.0" cy="227.3" r="0.80" fill="none" stroke="#949494" stroke-width="0.42"/>
<circle cx="230.1" cy="215.3" r="0.89" fill="none" stroke="#7f7f7f" stroke-width="0.42"/>
<circle cx="216.1" cy="213.9" r="0.99" fill="none" stroke="#545454" stroke-width="0.42"/>
<circle cx="187.6" cy="229.3" r="0.91" fill="none" stroke="#5a5a5a" stroke-width="0.42"/>
<circle cx="205.8" cy="245.9" r="0.99" fill="none" stroke="#5a5a5a" stroke-width="0.42"/>
<circle cx="227.2" cy="224.5" r="0.77" fill="none" stroke="#737373" stroke-width="0.42"/>
<circle cx="220.6" cy="241.2" r="0.92" fill="none" stroke="#757575" stroke-width="0.42"/>
<circle cx="200.8" cy="197.4" r="0.80" fill="none" stroke="#3b3b3b" stroke-width="0.42"/>
<circle cx="228.8" cy="213.9" r="0.88" fill="none" stroke="#7c7c7c" stroke-width="0.42"/>
<circle cx="189.3" cy="238.0" r="0.73" fill="none" stroke="#383838" stroke-width="0.42"/>
<circle cx="211.1" cy="215.9" r="1.06" fill="none" stroke="#5e5e5e" stroke-width="0.42"/>
<circle cx="184.9" cy="196.2" r="0.57" fill="none" stroke="#636363" stroke-width="0.42"/>
<circle cx="217.0" cy="197.9" r="0.73" fill="none" stroke="#616161" stroke-width="0.42"/>
<circle cx="226.5" cy="245.0" r="1.03" fill="none" stroke="#727272" stroke-width="0.42"/>
<circle cx="209.8" cy="206.7" r="0.89" fill="none" stroke="#414141" stroke-width="0.42"/>
<circle cx="195.7" cy="237.8" r="0.86" fill="none" stroke="#7b7b7b" stroke-width="0.42"/>
<circle cx="204.1" cy="209.6" r="0.83" fill="none" stroke="#6b6b6b" stroke-width="0.42"/>
<circle cx="192.5" cy="238.6" r="1.09" fill="none" stroke="#424242" stroke-width="0.42"/>
<circle cx="192.5" cy="236.8" r="0.95" fill="none" stroke="#474747" stroke-width="0.42"/>
<circle cx="210.4" cy="207.5" r="1.02" fill="none" stroke="#6d6d6d" stroke-width="0.42"/>
<circle cx="206.5" cy="203.6" r="0.77" fill="none" stroke="#616161" stroke-width="0.42"/>
<circle cx="198.7" cy="204.5" r="0.66" fill="none" stroke="#787878" stroke-width="0.42"/>
<circle cx="227.9" cy="238.5" r="0.89" fill="none" stroke="#828282" stroke-width="0.42"/>
<circle cx="186.9" cy="206.1" r="0.94" fill="none" stroke="#303030" stroke-width="0.42"/>
<circle cx="184.3" cy="235.2" r="0.66" fill="none" stroke="#434343" stroke-width="0.42"/>
<circle cx="200.5" cy="238.1" r="0.56" fill="none" stroke="#8b8b8b" stroke-width="0.42"/>
<circle cx="195.8" cy="224.5" r="0.81" fill="none" stroke="#3c3c3c" stroke-width="0.42"/>
</g>
<line x1="223.90" y1="242.60" x2="227.30" y2="242.60" stroke="#c8c8c8" stroke-width="0.6"/>
<rect x="236.80" y="194.80" width="52.80" height="52.20" fill="#0b0b0b"/>
<g clip-path="url(#c3)" filter="url(#b05)">
<clipPath id="c3"><rect x="236.8" y="194.8" width="52.8" height="52.2"/></clipPath>
<circle cx="249.6" cy="223.2" r="0.75" fill="none" stroke="#696969" stroke-width="0.42"/>
<circle cx="269.7" cy="198.7" r="0.56" fill="none" stroke="#808080" stroke-width="0.42"/>
<circle cx="250.7" cy="207.3" r="1.10" fill="none" stroke="#5d5d5d" stroke-width="0.42"/>
<circle cx="280.6" cy="219.7" r="0.90" fill="none" stroke="#3e3e3e" stroke-width="0.42"/>
<circle cx="270.2" cy="239.7" r="0.84" fill="none" stroke="#777777" stroke-width="0.42"/>
<circle cx="272.1" cy="198.6" r="0.97" fill="none" stroke="#686868" stroke-width="0.42"/>
<circle cx="252.9" cy="196.9" r="1.03" fill="none" stroke="#5d5d5d" stroke-width="0.42"/>
<circle cx="274.5" cy="240.3" r="0.94" fill="none" stroke="#888888" stroke-width="0.42"/>
<circle cx="257.8" cy="236.3" r="0.79" fill="none" stroke="#898989" stroke-width="0.42"/>
<circle cx="282.8" cy="200.3" r="0.62" fill="none" stroke="#444444" stroke-width="0.42"/>
<circle cx="287.3" cy="217.6" r="0.89" fill="none" stroke="#4c4c4c" stroke-width="0.42"/>
<circle cx="263.6" cy="215.1" r="0.74" fill="none" stroke="#686868" stroke-width="0.42"/>
<circle cx="267.6" cy="241.6" r="0.93" fill="none" stroke="#898989" stroke-width="0.42"/>
<circle cx="281.7" cy="246.0" r="0.92" fill="none" stroke="#3f3f3f" stroke-width="0.42"/>
<circle cx="281.9" cy="244.7" r="1.05" fill="none" stroke="#666666" stroke-width="0.42"/>
<circle cx="274.3" cy="206.1" r="1.01" fill="none" stroke="#676767" stroke-width="0.42"/>
<circle cx="252.1" cy="198.5" r="1.02" fill="none" stroke="#8f8f8f" stroke-width="0.42"/>
<circle cx="241.9" cy="236.3" r="0.78" fill="none" stroke="#3e3e3e" stroke-width="0.42"/>
<circle cx="252.5" cy="234.7" r="1.03" fill="none" stroke="#343434" stroke-width="0.42"/>
<circle cx="269.1" cy="197.6" r="0.95" fill="none" stroke="#4f4f4f" stroke-width="0.42"/>
<circle cx="282.9" cy="245.5" r="0.83" fill="none" stroke="#8f8f8f" stroke-width="0.42"/>
<circle cx="253.3" cy="199.2" r="0.88" fill="none" stroke="#333333" stroke-width="0.42"/>
<circle cx="247.5" cy="216.2" r="0.89" fill="none" stroke="#3e3e3e" stroke-width="0.42"/>
<circle cx="239.5" cy="239.7" r="0.72" fill="none" stroke="#8c8c8c" stroke-width="0.42"/>
<circle cx="283.7" cy="214.6" r="0.80" fill="none" stroke="#616161" stroke-width="0.42"/>
<circle cx="270.7" cy="225.8" r="0.86" fill="none" stroke="#6b6b6b" stroke-width="0.42"/>
<circle cx="286.0" cy="221.3" r="0.79" fill="none" stroke="#757575" stroke-width="0.42"/>
<circle cx="249.6" cy="210.7" r="1.09" fill="none" stroke="#626262" stroke-width="0.42"/>
<circle cx="265.7" cy="195.9" r="0.78" fill="none" stroke="#676767" stroke-width="0.42"/>
<circle cx="238.3" cy="226.8" r="0.90" fill="none" stroke="#353535" stroke-width="0.42"/>
<circle cx="269.8" cy="219.2" r="0.92" fill="none" stroke="#515151" stroke-width="0.42"/>
<circle cx="273.9" cy="233.1" r="0.56" fill="none" stroke="#353535" stroke-width="0.42"/>
<circle cx="272.3" cy="244.6" r="0.69" fill="none" stroke="#5b5b5b" stroke-width="0.42"/>
<circle cx="268.0" cy="211.7" r="0.75" fill="none" stroke="#4e4e4e" stroke-width="0.42"/>
<circle cx="256.4" cy="225.8" r="0.72" fill="none" stroke="#545454" stroke-width="0.42"/>
<circle cx="277.3" cy="196.7" r="0.86" fill="none" stroke="#767676" stroke-width="0.42"/>
<circle cx="253.4" cy="206.7" r="0.99" fill="none" stroke="#464646" stroke-width="0.42"/>
<circle cx="247.0" cy="217.6" r="0.93" fill="none" stroke="#393939" stroke-width="0.42"/>
<circle cx="254.0" cy="212.4" r="1.01" fill="none" stroke="#5a5a5a" stroke-width="0.42"/>
<circle cx="281.6" cy="204.0" r="0.74" fill="none" stroke="#6e6e6e" stroke-width="0.42"/>
<circle cx="283.1" cy="218.4" r="0.67" fill="none" stroke="#3b3b3b" stroke-width="0.42"/>
<circle cx="264.7" cy="205.1" r="0.99" fill="none" stroke="#808080" stroke-width="0.42"/>
<circle cx="246.8" cy="209.6" r="0.99" fill="none" stroke="#6d6d6d" stroke-width="0.42"/>
<circle cx="279.1" cy="213.0" r="0.62" fill="none" stroke="#4c4c4c" stroke-width="0.42"/>
<circle cx="278.4" cy="209.2" r="0.74" fill="none" stroke="#585858" stroke-width="0.42"/>
<circle cx="259.0" cy="216.3" r="1.06" fill="none" stroke="#3e3e3e" stroke-width="0.42"/>
<circle cx="237.5" cy="243.6" r="1.03" fill="none" stroke="#8e8e8e" stroke-width="0.42"/>
<circle cx="259.8" cy="243.9" r="1.06" fill="none" stroke="#454545" stroke-width="0.42"/>
<circle cx="275.9" cy="238.1" r="0.91" fill="none" stroke="#616161" stroke-width="0.42"/>
<circle cx="252.3" cy="212.8" r="0.68" fill="none" stroke="#363636" stroke-width="0.42"/>
<circle cx="267.8" cy="210.0" r="1.00" fill="none" stroke="#343434" stroke-width="0.42"/>
<circle cx="284.1" cy="230.8" r="1.06" fill="none" stroke="#868686" stroke-width="0.42"/>
<circle cx="283.9" cy="224.8" r="0.56" fill="none" stroke="#777777" stroke-width="0.42"/>
<circle cx="246.2" cy="210.7" r="0.91" fill="none" stroke="#626262" stroke-width="0.42"/>
<circle cx="258.7" cy="243.4" r="0.89" fill="none" stroke="#505050" stroke-width="0.42"/>
<circle cx="250.4" cy="239.4" r="0.81" fill="none" stroke="#7b7b7b" stroke-width="0.42"/>
<circle cx="255.5" cy="205.4" r="0.84" fill="none" stroke="#7e7e7e" stroke-width="0.42"/>
<circle cx="246.2" cy="235.8" r="1.06" fill="none" stroke="#7d7d7d" stroke-width="0.42"/>
<circle cx="280.0" cy="195.7" r="0.90" fill="none" stroke="#828282" stroke-width="0.42"/>
<circle cx="239.9" cy="209.2" r="0.70" fill="none" stroke="#626262" stroke-width="0.42"/>
<circle cx="259.2" cy="219.5" r="0.98" fill="none" stroke="#303030" stroke-width="0.42"/>
<circle cx="240.1" cy="201.8" r="0.62" fill="none" stroke="#363636" stroke-width="0.42"/>
<circle cx="287.8" cy="239.0" r="0.60" fill="none" stroke="#606060" stroke-width="0.42"/>
<circle cx="253.7" cy="211.4" r="0.74" fill="none" stroke="#6e6e6e" stroke-width="0.42"/>
<circle cx="267.7" cy="213.8" r="0.66" fill="none" stroke="#4f4f4f" stroke-width="0.42"/>
<circle cx="243.7" cy="223.7" r="0.94" fill="none" stroke="#545454" stroke-width="0.42"/>
<circle cx="241.4" cy="204.4" r="0.76" fill="none" stroke="#6a6a6a" stroke-width="0.42"/>
<circle cx="277.8" cy="214.8" r="0.99" fill="none" stroke="#6b6b6b" stroke-width="0.42"/>
<circle cx="259.7" cy="214.4" r="0.82" fill="none" stroke="#737373" stroke-width="0.42"/>
<circle cx="259.1" cy="230.8" r="0.80" fill="none" stroke="#474747" stroke-width="0.42"/>
<circle cx="265.1" cy="230.9" r="0.59" fill="none" stroke="#585858" stroke-width="0.42"/>
<circle cx="259.4" cy="240.3" r="1.07" fill="none" stroke="#535353" stroke-width="0.42"/>
<circle cx="283.8" cy="235.8" r="0.69" fill="none" stroke="#5c5c5c" stroke-width="0.42"/>
<circle cx="243.7" cy="236.9" r="0.91" fill="none" stroke="#858585" stroke-width="0.42"/>
<circle cx="278.3" cy="229.5" r="0.95" fill="none" stroke="#666666" stroke-width="0.42"/>
<circle cx="242.6" cy="225.4" r="0.55" fill="none" stroke="#3d3d3d" stroke-width="0.42"/>
<circle cx="277.4" cy="197.6" r="0.60" fill="none" stroke="#393939" stroke-width="0.42"/>
<circle cx="282.9" cy="204.5" r="0.56" fill="none" stroke="#808080" stroke-width="0.42"/>
<circle cx="243.6" cy="238.5" r="0.92" fill="none" stroke="#808080" stroke-width="0.42"/>
<circle cx="286.6" cy="224.9" r="0.99" fill="none" stroke="#333333" stroke-width="0.42"/>
<circle cx="277.1" cy="221.5" r="0.94" fill="none" stroke="#3a3a3a" stroke-width="0.42"/>
<circle cx="276.1" cy="243.1" r="0.58" fill="none" stroke="#4f4f4f" stroke-width="0.42"/>
<circle cx="266.5" cy="237.7" r="0.68" fill="none" stroke="#414141" stroke-width="0.42"/>
<circle cx="250.2" cy="226.8" r="0.96" fill="none" stroke="#555555" stroke-width="0.42"/>
<circle cx="256.3" cy="215.6" r="0.74" fill="none" stroke="#585858" stroke-width="0.42"/>
<circle cx="241.6" cy="220.9" r="1.09" fill="none" stroke="#575757" stroke-width="0.42"/>
<circle cx="276.0" cy="203.5" r="0.93" fill="none" stroke="#787878" stroke-width="0.42"/>
<circle cx="272.2" cy="221.8" r="0.82" fill="none" stroke="#6d6d6d" stroke-width="0.42"/>
<circle cx="283.8" cy="202.9" r="0.60" fill="none" stroke="#777777" stroke-width="0.42"/>
<circle cx="284.8" cy="221.8" r="0.79" fill="none" stroke="#757575" stroke-width="0.42"/>
<circle cx="246.9" cy="209.0" r="0.66" fill="none" stroke="#686868" stroke-width="0.42"/>
<circle cx="253.6" cy="207.2" r="0.93" fill="none" stroke="#8b8b8b" stroke-width="0.42"/>
<circle cx="252.6" cy="231.4" r="0.78" fill="none" stroke="#818181" stroke-width="0.42"/>
<circle cx="267.6" cy="209.0" r="0.67" fill="none" stroke="#323232" stroke-width="0.42"/>
<circle cx="262.1" cy="214.9" r="0.64" fill="none" stroke="#525252" stroke-width="0.42"/>
<circle cx="254.0" cy="234.9" r="0.63" fill="none" stroke="#8f8f8f" stroke-width="0.42"/>
<circle cx="262.1" cy="226.0" r="0.81" fill="none" stroke="#808080" stroke-width="0.42"/>
<circle cx="279.9" cy="223.8" r="0.81" fill="none" stroke="#757575" stroke-width="0.42"/>
<circle cx="281.7" cy="215.8" r="0.95" fill="none" stroke="#8c8c8c" stroke-width="0.42"/>
<circle cx="261.5" cy="207.1" r="0.68" fill="none" stroke="#747474" stroke-width="0.42"/>
<circle cx="272.3" cy="244.4" r="1.02" fill="none" stroke="#474747" stroke-width="0.42"/>
<circle cx="247.1" cy="208.5" r="0.65" fill="none" stroke="#737373" stroke-width="0.42"/>
<circle cx="281.8" cy="241.4" r="0.69" fill="none" stroke="#838383" stroke-width="0.42"/>
<circle cx="253.5" cy="217.0" r="0.95" fill="none" stroke="#383838" stroke-width="0.42"/>
<circle cx="242.1" cy="238.0" r="0.71" fill="none" stroke="#525252" stroke-width="0.42"/>
<circle cx="267.4" cy="229.9" r="0.55" fill="none" stroke="#505050" stroke-width="0.42"/>
<circle cx="259.9" cy="220.2" r="0.67" fill="none" stroke="#686868" stroke-width="0.42"/>
<circle cx="286.8" cy="215.3" r="0.85" fill="none" stroke="#3b3b3b" stroke-width="0.42"/>
<circle cx="251.5" cy="229.4" r="0.61" fill="none" stroke="#858585" stroke-width="0.42"/>
<circle cx="284.4" cy="200.3" r="1.07" fill="none" stroke="#535353" stroke-width="0.42"/>
<circle cx="277.3" cy="234.1" r="0.71" fill="none" stroke="#707070" stroke-width="0.42"/>
<circle cx="271.2" cy="236.6" r="0.70" fill="none" stroke="#787878" stroke-width="0.42"/>
<circle cx="287.1" cy="229.7" r="0.84" fill="none" stroke="#3a3a3a" stroke-width="0.42"/>
<circle cx="262.9" cy="213.3" r="0.94" fill="none" stroke="#717171" stroke-width="0.42"/>
<circle cx="266.6" cy="204.6" r="0.91" fill="none" stroke="#6c6c6c" stroke-width="0.42"/>
<circle cx="246.6" cy="240.9" r="0.91" fill="none" stroke="#3b3b3b" stroke-width="0.42"/>
<circle cx="285.6" cy="202.5" r="0.73" fill="none" stroke="#757575" stroke-width="0.42"/>
<circle cx="268.2" cy="223.7" r="0.91" fill="none" stroke="#5b5b5b" stroke-width="0.42"/>
<circle cx="253.5" cy="204.3" r="0.59" fill="none" stroke="#747474" stroke-width="0.42"/>
<circle cx="276.4" cy="223.1" r="0.96" fill="none" stroke="#525252" stroke-width="0.42"/>
<circle cx="251.1" cy="214.9" r="1.03" fill="none" stroke="#343434" stroke-width="0.42"/>
<circle cx="263.4" cy="208.0" r="0.97" fill="none" stroke="#515151" stroke-width="0.42"/>
<circle cx="254.5" cy="216.0" r="0.85" fill="none" stroke="#7a7a7a" stroke-width="0.42"/>
<circle cx="255.6" cy="238.7" r="0.61" fill="none" stroke="#494949" stroke-width="0.42"/>
<circle cx="242.5" cy="201.1" r="0.98" fill="none" stroke="#757575" stroke-width="0.42"/>
<circle cx="246.9" cy="205.0" r="0.78" fill="none" stroke="#777777" stroke-width="0.42"/>
<circle cx="279.6" cy="233.6" r="0.88" fill="none" stroke="#3e3e3e" stroke-width="0.42"/>
<circle cx="257.9" cy="205.2" r="0.84" fill="none" stroke="#666666" stroke-width="0.42"/>
<circle cx="247.8" cy="208.1" r="0.98" fill="none" stroke="#323232" stroke-width="0.42"/>
<circle cx="278.9" cy="240.9" r="1.07" fill="none" stroke="#545454" stroke-width="0.42"/>
<circle cx="265.9" cy="225.2" r="0.90" fill="none" stroke="#8d8d8d" stroke-width="0.42"/>
<circle cx="272.9" cy="210.6" r="1.02" fill="none" stroke="#5e5e5e" stroke-width="0.42"/>
<circle cx="268.5" cy="232.5" r="0.55" fill="none" stroke="#797979" stroke-width="0.42"/>
<circle cx="271.6" cy="220.5" r="0.84" fill="none" stroke="#5c5c5c" stroke-width="0.42"/>
<circle cx="247.3" cy="222.4" r="0.57" fill="none" stroke="#606060" stroke-width="0.42"/>
<circle cx="270.8" cy="218.0" r="0.86" fill="none" stroke="#8c8c8c" stroke-width="0.42"/>
<circle cx="283.5" cy="202.2" r="0.99" fill="none" stroke="#6b6b6b" stroke-width="0.42"/>
<circle cx="239.9" cy="213.7" r="0.68" fill="none" stroke="#373737" stroke-width="0.42"/>
<circle cx="265.2" cy="242.9" r="0.73" fill="none" stroke="#838383" stroke-width="0.42"/>
<circle cx="273.3" cy="202.2" r="1.02" fill="none" stroke="#696969" stroke-width="0.42"/>
<circle cx="285.3" cy="232.0" r="0.96" fill="none" stroke="#505050" stroke-width="0.42"/>
<circle cx="279.1" cy="243.0" r="1.02" fill="none" stroke="#595959" stroke-width="0.42"/>
<circle cx="276.5" cy="220.1" r="0.61" fill="none" stroke="#343434" stroke-width="0.42"/>
<circle cx="241.3" cy="205.6" r="0.64" fill="none" stroke="#5f5f5f" stroke-width="0.42"/>
<circle cx="273.5" cy="222.8" r="0.78" fill="none" stroke="#6e6e6e" stroke-width="0.42"/>
<circle cx="253.1" cy="219.1" r="0.97" fill="none" stroke="#565656" stroke-width="0.42"/>
<circle cx="246.7" cy="241.3" r="0.95" fill="none" stroke="#535353" stroke-width="0.42"/>
<circle cx="256.5" cy="222.4" r="0.88" fill="none" stroke="#454545" stroke-width="0.42"/>
<circle cx="237.4" cy="206.0" r="0.98" fill="none" stroke="#3d3d3d" stroke-width="0.42"/>
<circle cx="261.1" cy="205.3" r="0.67" fill="none" stroke="#404040" stroke-width="0.42"/>
<circle cx="258.2" cy="203.9" r="0.57" fill="none" stroke="#3a3a3a" stroke-width="0.42"/>
<circle cx="246.0" cy="220.4" r="0.58" fill="none" stroke="#323232" stroke-width="0.42"/>
<circle cx="260.5" cy="216.2" r="0.94" fill="none" stroke="#343434" stroke-width="0.42"/>
<circle cx="258.2" cy="215.6" r="0.56" fill="none" stroke="#8c8c8c" stroke-width="0.42"/>
<circle cx="248.6" cy="200.1" r="0.81" fill="none" stroke="#3f3f3f" stroke-width="0.42"/>
<circle cx="269.5" cy="213.0" r="0.62" fill="none" stroke="#343434" stroke-width="0.42"/>
<circle cx="275.0" cy="209.4" r="0.98" fill="none" stroke="#5c5c5c" stroke-width="0.42"/>
<circle cx="285.6" cy="210.7" r="0.69" fill="none" stroke="#494949" stroke-width="0.42"/>
<circle cx="279.5" cy="227.5" r="0.74" fill="none" stroke="#383838" stroke-width="0.42"/>
<circle cx="272.6" cy="244.9" r="0.88" fill="none" stroke="#303030" stroke-width="0.42"/>
<circle cx="238.9" cy="199.9" r="0.64" fill="none" stroke="#333333" stroke-width="0.42"/>
<circle cx="240.1" cy="228.8" r="1.05" fill="none" stroke="#434343" stroke-width="0.42"/>
<circle cx="287.7" cy="219.7" r="0.99" fill="none" stroke="#888888" stroke-width="0.42"/>
<circle cx="286.0" cy="197.1" r="0.72" fill="none" stroke="#6a6a6a" stroke-width="0.42"/>
<circle cx="286.3" cy="199.8" r="0.71" fill="none" stroke="#818181" stroke-width="0.42"/>
<circle cx="243.2" cy="215.3" r="0.73" fill="none" stroke="#717171" stroke-width="0.42"/>
<circle cx="285.4" cy="204.2" r="0.96" fill="none" stroke="#767676" stroke-width="0.42"/>
<circle cx="280.6" cy="223.6" r="1.06" fill="none" stroke="#525252" stroke-width="0.42"/>
<circle cx="258.8" cy="207.0" r="0.98" fill="none" stroke="#5e5e5e" stroke-width="0.42"/>
<circle cx="251.3" cy="204.0" r="0.95" fill="none" stroke="#6a6a6a" stroke-width="0.42"/>
<circle cx="274.1" cy="215.1" r="0.82" fill="none" stroke="#3e3e3e" stroke-width="0.42"/>
<circle cx="274.1" cy="196.5" r="0.81" fill="none" stroke="#787878" stroke-width="0.42"/>
<circle cx="272.4" cy="200.3" r="0.68" fill="none" stroke="#808080" stroke-width="0.42"/>
<circle cx="270.6" cy="240.3" r="1.03" fill="none" stroke="#5b5b5b" stroke-width="0.42"/>
<circle cx="283.8" cy="232.8" r="0.73" fill="none" stroke="#535353" stroke-width="0.42"/>
<circle cx="241.0" cy="215.7" r="1.08" fill="none" stroke="#3a3a3a" stroke-width="0.42"/>
<circle cx="266.8" cy="200.9" r="0.59" fill="none" stroke="#6e6e6e" stroke-width="0.42"/>
<circle cx="249.8" cy="197.8" r="0.63" fill="none" stroke="#6d6d6d" stroke-width="0.42"/>
<circle cx="267.6" cy="195.9" r="0.68" fill="none" stroke="#8c8c8c" stroke-width="0.42"/>
<circle cx="248.7" cy="224.1" r="0.78" fill="none" stroke="#7a7a7a" stroke-width="0.42"/>
<circle cx="268.6" cy="235.7" r="0.84" fill="none" stroke="#424242" stroke-width="0.42"/>
<circle cx="246.5" cy="199.4" r="1.00" fill="none" stroke="#3a3a3a" stroke-width="0.42"/>
<circle cx="238.5" cy="244.8" r="0.66" fill="none" stroke="#858585" stroke-width="0.42"/>
<circle cx="241.7" cy="219.1" r="0.67" fill="none" stroke="#7f7f7f" stroke-width="0.42"/>
<circle cx="269.2" cy="228.2" r="0.97" fill="none" stroke="#838383" stroke-width="0.42"/>
<circle cx="255.2" cy="226.2" r="0.80" fill="none" stroke="#3a3a3a" stroke-width="0.42"/>
<circle cx="280.6" cy="225.7" r="1.00" fill="none" stroke="#434343" stroke-width="0.42"/>
<circle cx="265.2" cy="219.1" r="0.95" fill="none" stroke="#373737" stroke-width="0.42"/>
<circle cx="255.2" cy="220.1" r="0.59" fill="none" stroke="#656565" stroke-width="0.42"/>
<circle cx="275.4" cy="217.0" r="0.91" fill="none" stroke="#6a6a6a" stroke-width="0.42"/>
<circle cx="248.4" cy="213.2" r="1.10" fill="none" stroke="#505050" stroke-width="0.42"/>
<circle cx="259.6" cy="199.6" r="0.67" fill="none" stroke="#3f3f3f" stroke-width="0.42"/>
<circle cx="285.5" cy="232.5" r="1.03" fill="none" stroke="#8e8e8e" stroke-width="0.42"/>
<circle cx="269.0" cy="243.0" r="0.84" fill="none" stroke="#585858" stroke-width="0.42"/>
<circle cx="286.4" cy="241.5" r="1.07" fill="none" stroke="#5e5e5e" stroke-width="0.42"/>
<circle cx="277.4" cy="216.1" r="1.10" fill="none" stroke="#888888" stroke-width="0.42"/>
<circle cx="252.4" cy="243.1" r="0.65" fill="none" stroke="#393939" stroke-width="0.42"/>
<circle cx="274.7" cy="210.4" r="0.84" fill="none" stroke="#6d6d6d" stroke-width="0.42"/>
<circle cx="239.4" cy="233.5" r="0.70" fill="none" stroke="#595959" stroke-width="0.42"/>
<circle cx="255.2" cy="233.3" r="0.96" fill="none" stroke="#4b4b4b" stroke-width="0.42"/>
<circle cx="242.7" cy="210.6" r="0.78" fill="none" stroke="#373737" stroke-width="0.42"/>
<circle cx="245.2" cy="234.4" r="0.94" fill="none" stroke="#8d8d8d" stroke-width="0.42"/>
<circle cx="288.0" cy="240.2" r="0.75" fill="none" stroke="#3f3f3f" stroke-width="0.42"/>
<circle cx="253.5" cy="219.0" r="0.84" fill="none" stroke="#646464" stroke-width="0.42"/>
<circle cx="255.9" cy="239.0" r="0.71" fill="none" stroke="#5c5c5c" stroke-width="0.42"/>
<circle cx="283.2" cy="236.6" r="0.71" fill="none" stroke="#474747" stroke-width="0.42"/>
<circle cx="279.1" cy="195.8" r="0.62" fill="none" stroke="#626262" stroke-width="0.42"/>
<circle cx="265.1" cy="203.8" r="0.58" fill="none" stroke="#434343" stroke-width="0.42"/>
<circle cx="277.2" cy="219.1" r="1.09" fill="none" stroke="#7b7b7b" stroke-width="0.42"/>
<circle cx="288.0" cy="197.1" r="0.65" fill="none" stroke="#313131" stroke-width="0.42"/>
<circle cx="259.7" cy="212.6" r="0.58" fill="none" stroke="#646464" stroke-width="0.42"/>
<circle cx="242.2" cy="211.3" r="0.69" fill="none" stroke="#7d7d7d" stroke-width="0.42"/>
<circle cx="259.0" cy="208.6" r="0.57" fill="none" stroke="#595959" stroke-width="0.42"/>
<circle cx="269.8" cy="229.9" r="1.05" fill="none" stroke="#7d7d7d" stroke-width="0.42"/>
<circle cx="250.1" cy="202.2" r="0.97" fill="none" stroke="#7b7b7b" stroke-width="0.42"/>
<circle cx="263.7" cy="237.8" r="0.85" fill="none" stroke="#4a4a4a" stroke-width="0.42"/>
<circle cx="246.0" cy="196.2" r="0.90" fill="none" stroke="#868686" stroke-width="0.42"/>
<circle cx="284.2" cy="219.2" r="0.92" fill="none" stroke="#898989" stroke-width="0.42"/>
<circle cx="279.5" cy="226.2" r="0.78" fill="none" stroke="#616161" stroke-width="0.42"/>
<circle cx="246.1" cy="204.7" r="0.93" fill="none" stroke="#8f8f8f" stroke-width="0.42"/>
<circle cx="265.6" cy="216.2" r="0.74" fill="none" stroke="#5b5b5b" stroke-width="0.42"/>
<circle cx="278.9" cy="218.5" r="1.08" fill="none" stroke="#3e3e3e" stroke-width="0.42"/>
<circle cx="253.6" cy="222.0" r="0.78" fill="none" stroke="#818181" stroke-width="0.42"/>
<circle cx="280.2" cy="243.0" r="0.89" fill="none" stroke="#323232" stroke-width="0.42"/>
<circle cx="267.1" cy="223.4" r="0.82" fill="none" stroke="#4a4a4a" stroke-width="0.42"/>
<circle cx="274.0" cy="242.0" r="0.61" fill="none" stroke="#707070" stroke-width="0.42"/>
<circle cx="256.5" cy="221.7" r="1.04" fill="none" stroke="#8c8c8c" stroke-width="0.42"/>
<circle cx="270.6" cy="205.3" r="1.06" fill="none" stroke="#414141" stroke-width="0.42"/>
<circle cx="257.2" cy="237.7" r="0.72" fill="none" stroke="#4a4a4a" stroke-width="0.42"/>
<circle cx="286.5" cy="243.6" r="0.72" fill="none" stroke="#555555" stroke-width="0.42"/>
</g>
<line x1="281.20" y1="242.60" x2="284.60" y2="242.60" stroke="#c8c8c8" stroke-width="0.6"/>
<rect x="179.50" y="263.80" width="52.80" height="52.50" fill="#0b0b0b"/>
<g clip-path="url(#c4)" filter="url(#b045)">
<clipPath id="c4"><rect x="179.5" y="263.8" width="52.8" height="52.5"/></clipPath>
<circle cx="192.2" cy="269.6" r="0.88" fill="#6b6b6b"/>
<circle cx="183.4" cy="285.0" r="1.24" fill="#bebebe"/>
<circle cx="219.6" cy="275.7" r="0.98" fill="#7b7b7b"/>
<circle cx="188.9" cy="269.8" r="0.75" fill="#cecece"/>
<circle cx="222.9" cy="305.8" r="1.16" fill="#707070"/>
<circle cx="196.1" cy="296.6" r="1.11" fill="#c5c5c5"/>
<circle cx="225.6" cy="268.8" r="1.02" fill="#adadad"/>
<circle cx="206.2" cy="273.5" r="0.93" fill="#636363"/>
<circle cx="228.4" cy="308.9" r="0.98" fill="#7e7e7e"/>
<circle cx="227.1" cy="293.8" r="1.22" fill="#c4c4c4"/>
<circle cx="206.3" cy="285.6" r="1.02" fill="#8f8f8f"/>
<circle cx="188.4" cy="280.0" r="1.17" fill="#5d5d5d"/>
<circle cx="182.4" cy="296.6" r="0.80" fill="#9c9c9c"/>
<circle cx="204.4" cy="282.0" r="1.30" fill="#717171"/>
<circle cx="201.4" cy="274.7" r="1.04" fill="#7b7b7b"/>
<circle cx="198.4" cy="302.8" r="0.82" fill="#9f9f9f"/>
<circle cx="226.8" cy="269.5" r="0.64" fill="#757575"/>
<circle cx="219.6" cy="296.0" r="0.77" fill="#828282"/>
<circle cx="189.2" cy="287.9" r="0.63" fill="#b1b1b1"/>
<circle cx="226.4" cy="313.5" r="1.11" fill="#d2d2d2"/>
<circle cx="180.9" cy="279.2" r="1.28" fill="#bbbbbb"/>
<circle cx="201.3" cy="312.9" r="1.03" fill="#c0c0c0"/>
<circle cx="195.2" cy="274.2" r="0.91" fill="#696969"/>
<circle cx="199.8" cy="313.8" r="0.83" fill="#595959"/>
<circle cx="182.3" cy="273.0" r="1.15" fill="#868686"/>
<circle cx="195.0" cy="269.3" r="1.29" fill="#8e8e8e"/>
<circle cx="190.8" cy="267.4" r="0.64" fill="#6d6d6d"/>
<circle cx="215.1" cy="272.0" r="0.63" fill="#969696"/>
<circle cx="192.9" cy="315.7" r="0.69" fill="#9b9b9b"/>
<circle cx="220.1" cy="285.4" r="1.29" fill="#959595"/>
<circle cx="192.5" cy="285.4" r="0.63" fill="#8d8d8d"/>
<circle cx="192.9" cy="310.1" r="1.18" fill="#979797"/>
<circle cx="181.6" cy="277.4" r="0.77" fill="#727272"/>
<circle cx="192.0" cy="309.1" r="0.70" fill="#5e5e5e"/>
<circle cx="228.1" cy="293.4" r="1.29" fill="#8b8b8b"/>
<circle cx="226.7" cy="298.0" r="1.15" fill="#b7b7b7"/>
<circle cx="205.6" cy="269.1" r="0.75" fill="#c7c7c7"/>
<circle cx="226.6" cy="311.9" r="0.84" fill="#acacac"/>
<circle cx="221.4" cy="297.4" r="1.17" fill="#9b9b9b"/>
<circle cx="213.9" cy="299.6" r="0.79" fill="#cecece"/>
<circle cx="229.5" cy="268.1" r="1.28" fill="#d3d3d3"/>
<circle cx="214.6" cy="266.6" r="1.23" fill="#686868"/>
<circle cx="230.2" cy="298.7" r="0.64" fill="#6d6d6d"/>
<circle cx="212.9" cy="293.6" r="1.12" fill="#cecece"/>
<circle cx="191.3" cy="264.5" r="1.25" fill="#595959"/>
<circle cx="225.4" cy="270.3" r="1.17" fill="#bcbcbc"/>
<circle cx="225.5" cy="292.7" r="1.22" fill="#717171"/>
<circle cx="214.8" cy="281.3" r="1.22" fill="#bbbbbb"/>
<circle cx="204.4" cy="291.4" r="0.62" fill="#5c5c5c"/>
<circle cx="210.8" cy="289.5" r="1.21" fill="#a5a5a5"/>
<circle cx="187.2" cy="283.0" r="1.14" fill="#9a9a9a"/>
<circle cx="180.5" cy="307.4" r="1.18" fill="#626262"/>
<circle cx="208.1" cy="283.9" r="1.15" fill="#7f7f7f"/>
<circle cx="192.1" cy="289.4" r="1.28" fill="#646464"/>
<circle cx="185.9" cy="296.3" r="1.22" fill="#999999"/>
<circle cx="202.5" cy="308.5" r="1.14" fill="#606060"/>
<circle cx="225.7" cy="274.4" r="0.81" fill="#c3c3c3"/>
<circle cx="201.9" cy="305.4" r="0.72" fill="#c7c7c7"/>
<circle cx="189.1" cy="272.0" r="0.95" fill="#838383"/>
<circle cx="208.1" cy="310.9" r="1.10" fill="#585858"/>
<circle cx="196.2" cy="292.4" r="0.94" fill="#b3b3b3"/>
<circle cx="205.1" cy="268.2" r="0.77" fill="#c4c4c4"/>
<circle cx="198.5" cy="303.8" r="1.29" fill="#a8a8a8"/>
<circle cx="215.1" cy="295.7" r="0.82" fill="#cccccc"/>
<circle cx="204.2" cy="311.2" r="0.81" fill="#c7c7c7"/>
<circle cx="220.8" cy="295.9" r="0.91" fill="#6a6a6a"/>
<circle cx="219.9" cy="283.0" r="1.06" fill="#696969"/>
<circle cx="184.3" cy="271.7" r="1.17" fill="#6e6e6e"/>
<circle cx="226.7" cy="283.5" r="1.00" fill="#848484"/>
<circle cx="212.2" cy="269.1" r="0.88" fill="#cfcfcf"/>
<circle cx="189.3" cy="298.0" r="0.83" fill="#7e7e7e"/>
<circle cx="181.2" cy="265.3" r="1.26" fill="#c2c2c2"/>
<circle cx="221.5" cy="305.9" r="1.27" fill="#6c6c6c"/>
<circle cx="210.3" cy="289.8" r="1.00" fill="#d0d0d0"/>
<circle cx="219.4" cy="314.2" r="0.68" fill="#ababab"/>
<circle cx="215.0" cy="302.7" r="1.03" fill="#c2c2c2"/>
<circle cx="195.7" cy="312.1" r="0.88" fill="#a4a4a4"/>
<circle cx="226.5" cy="300.5" r="0.82" fill="#757575"/>
<circle cx="196.9" cy="296.6" r="1.30" fill="#cbcbcb"/>
<circle cx="200.7" cy="284.9" r="1.17" fill="#7c7c7c"/>
<circle cx="201.3" cy="265.0" r="0.73" fill="#9d9d9d"/>
<circle cx="215.9" cy="296.0" r="0.86" fill="#d1d1d1"/>
<circle cx="212.3" cy="272.3" r="0.65" fill="#d4d4d4"/>
<circle cx="231.2" cy="311.7" r="1.02" fill="#7f7f7f"/>
<circle cx="184.7" cy="277.6" r="0.76" fill="#cecece"/>
<circle cx="226.2" cy="304.4" r="0.70" fill="#767676"/>
<circle cx="195.5" cy="313.1" r="0.71" fill="#bdbdbd"/>
<circle cx="215.3" cy="292.5" r="1.27" fill="#797979"/>
<circle cx="207.2" cy="272.4" r="0.67" fill="#5c5c5c"/>
<circle cx="196.4" cy="270.6" r="0.64" fill="#d7d7d7"/>
<circle cx="195.0" cy="310.1" r="1.09" fill="#b5b5b5"/>
<circle cx="213.9" cy="313.4" r="1.21" fill="#b4b4b4"/>
<circle cx="209.0" cy="300.0" r="1.11" fill="#9e9e9e"/>
<circle cx="206.0" cy="272.2" r="1.19" fill="#959595"/>
<circle cx="183.5" cy="273.0" r="1.21" fill="#787878"/>
<circle cx="200.3" cy="299.4" r="1.20" fill="#828282"/>
<circle cx="200.0" cy="286.1" r="0.62" fill="#c8c8c8"/>
<circle cx="181.0" cy="313.7" r="0.71" fill="#6c6c6c"/>
<circle cx="224.0" cy="306.7" r="0.76" fill="#9e9e9e"/>
<circle cx="204.7" cy="301.3" r="0.73" fill="#c1c1c1"/>
<circle cx="231.6" cy="300.7" r="1.24" fill="#cfcfcf"/>
<circle cx="199.7" cy="307.9" r="1.18" fill="#a3a3a3"/>
<circle cx="185.6" cy="296.2" r="1.24" fill="#7f7f7f"/>
<circle cx="213.5" cy="310.5" r="1.02" fill="#5c5c5c"/>
<circle cx="212.7" cy="277.5" r="1.20" fill="#acacac"/>
<circle cx="195.9" cy="310.4" r="1.04" fill="#838383"/>
<circle cx="223.2" cy="310.2" r="1.23" fill="#c9c9c9"/>
<circle cx="214.1" cy="300.3" r="1.02" fill="#9b9b9b"/>
<circle cx="231.1" cy="282.5" r="0.66" fill="#b3b3b3"/>
<circle cx="205.8" cy="292.4" r="1.02" fill="#777777"/>
<circle cx="190.4" cy="268.0" r="1.15" fill="#cccccc"/>
<circle cx="216.1" cy="270.3" r="1.28" fill="#c1c1c1"/>
<circle cx="206.4" cy="264.3" r="1.19" fill="#a7a7a7"/>
<circle cx="212.2" cy="265.2" r="1.11" fill="#5c5c5c"/>
<circle cx="204.8" cy="271.8" r="0.85" fill="#c9c9c9"/>
<circle cx="218.8" cy="306.3" r="0.81" fill="#898989"/>
<circle cx="211.3" cy="266.1" r="0.89" fill="#d4d4d4"/>
<circle cx="219.1" cy="308.7" r="0.81" fill="#b0b0b0"/>
<circle cx="220.9" cy="300.6" r="0.91" fill="#6e6e6e"/>
<circle cx="180.9" cy="310.0" r="1.25" fill="#7b7b7b"/>
<circle cx="219.1" cy="285.3" r="1.04" fill="#c3c3c3"/>
<circle cx="196.6" cy="296.2" r="0.78" fill="#999999"/>
<circle cx="181.6" cy="277.9" r="0.80" fill="#cdcdcd"/>
<circle cx="186.9" cy="303.4" r="0.66" fill="#d6d6d6"/>
<circle cx="188.6" cy="269.0" r="0.75" fill="#cfcfcf"/>
<circle cx="214.6" cy="310.2" r="0.95" fill="#666666"/>
<circle cx="197.6" cy="287.8" r="1.29" fill="#6d6d6d"/>
<circle cx="192.6" cy="307.7" r="0.68" fill="#d4d4d4"/>
<circle cx="195.4" cy="293.5" r="1.06" fill="#cccccc"/>
<circle cx="183.9" cy="307.9" r="0.73" fill="#b3b3b3"/>
<circle cx="181.4" cy="303.8" r="0.73" fill="#727272"/>
<circle cx="181.8" cy="281.0" r="0.83" fill="#d5d5d5"/>
<circle cx="211.4" cy="283.1" r="1.29" fill="#6d6d6d"/>
<circle cx="191.1" cy="313.5" r="1.27" fill="#afafaf"/>
<circle cx="230.7" cy="267.3" r="1.23" fill="#b2b2b2"/>
<circle cx="214.6" cy="307.7" r="0.67" fill="#717171"/>
<circle cx="187.1" cy="289.0" r="0.98" fill="#9d9d9d"/>
<circle cx="198.8" cy="302.6" r="1.19" fill="#b9b9b9"/>
<circle cx="182.0" cy="272.2" r="0.75" fill="#767676"/>
<circle cx="209.7" cy="274.3" r="1.04" fill="#848484"/>
<circle cx="198.8" cy="300.8" r="1.26" fill="#707070"/>
<circle cx="198.0" cy="314.9" r="0.75" fill="#5b5b5b"/>
<circle cx="189.9" cy="306.8" r="1.11" fill="#d0d0d0"/>
<circle cx="205.8" cy="266.4" r="0.81" fill="#b4b4b4"/>
<circle cx="200.3" cy="271.5" r="0.86" fill="#939393"/>
<circle cx="198.4" cy="287.3" r="0.70" fill="#5b5b5b"/>
<circle cx="220.6" cy="302.0" r="0.89" fill="#666666"/>
<circle cx="195.3" cy="293.1" r="1.23" fill="#959595"/>
<circle cx="230.4" cy="291.4" r="0.73" fill="#a6a6a6"/>
<circle cx="211.1" cy="295.2" r="1.11" fill="#5a5a5a"/>
<circle cx="181.5" cy="312.8" r="1.60" fill="#ffffff"/>
<circle cx="184.5" cy="314.3" r="1.80" fill="#ffffff"/>
<circle cx="187.5" cy="312.8" r="1.30" fill="#f0f0f0"/>
<circle cx="205.5" cy="313.3" r="1.50" fill="#fafafa"/>
<circle cx="208.5" cy="314.3" r="1.60" fill="#ffffff"/>
<circle cx="212.5" cy="312.8" r="1.30" fill="#f0f0f0"/>
<circle cx="215.5" cy="314.3" r="1.20" fill="#e6e6e6"/>
<circle cx="225.5" cy="296.8" r="1.50" fill="#fafafa"/>
<circle cx="228.5" cy="294.8" r="1.30" fill="#f0f0f0"/>
<circle cx="229.5" cy="287.8" r="1.20" fill="#e6e6e6"/>
<circle cx="181.0" cy="279.8" r="1.30" fill="#ebebeb"/>
<circle cx="181.5" cy="283.8" r="1.20" fill="#e6e6e6"/>
<circle cx="182.5" cy="305.8" r="1.20" fill="#dcdcdc"/>
</g>
<line x1="223.90" y1="311.90" x2="227.30" y2="311.90" stroke="#c8c8c8" stroke-width="0.6"/>
<rect x="236.80" y="263.80" width="52.80" height="52.50" fill="#0b0b0b"/>
<g clip-path="url(#c5)" filter="url(#b04)">
<clipPath id="c5"><rect x="236.8" y="263.8" width="52.8" height="52.5"/></clipPath>
<circle cx="269.6" cy="302.5" r="0.77" fill="#eaeaea"/>
<circle cx="275.6" cy="311.8" r="0.46" fill="#b8b8b8"/>
<circle cx="286.2" cy="297.7" r="0.81" fill="#939393"/>
<circle cx="261.6" cy="277.0" r="0.67" fill="#c3c3c3"/>
<circle cx="238.0" cy="275.5" r="0.56" fill="#e7e7e7"/>
<circle cx="277.0" cy="272.5" r="0.77" fill="#969696"/>
<circle cx="269.3" cy="270.8" r="0.45" fill="#e2e2e2"/>
<circle cx="248.1" cy="275.4" r="0.84" fill="#e2e2e2"/>
<circle cx="252.3" cy="313.8" r="0.67" fill="#cecece"/>
<circle cx="247.9" cy="312.8" r="0.73" fill="#ececec"/>
<circle cx="283.6" cy="279.7" r="0.59" fill="#999999"/>
<circle cx="244.8" cy="267.7" r="0.57" fill="#c6c6c6"/>
<circle cx="237.5" cy="299.2" r="0.59" fill="#a8a8a8"/>
<circle cx="279.7" cy="289.1" r="0.58" fill="#bababa"/>
<circle cx="273.8" cy="267.2" r="0.84" fill="#8a8a8a"/>
<circle cx="276.1" cy="307.8" r="0.46" fill="#d9d9d9"/>
<circle cx="256.3" cy="294.1" r="0.45" fill="#8c8c8c"/>
<circle cx="246.7" cy="313.5" r="0.53" fill="#d6d6d6"/>
<circle cx="285.5" cy="312.8" r="0.59" fill="#acacac"/>
<circle cx="264.5" cy="304.2" r="0.49" fill="#d5d5d5"/>
<circle cx="278.6" cy="308.6" r="0.46" fill="#eaeaea"/>
<circle cx="242.0" cy="281.8" r="0.69" fill="#e7e7e7"/>
<circle cx="254.9" cy="311.9" r="0.67" fill="#a8a8a8"/>
<circle cx="253.7" cy="273.4" r="0.48" fill="#979797"/>
<circle cx="273.0" cy="315.6" r="0.51" fill="#8d8d8d"/>
<circle cx="288.4" cy="291.8" r="0.61" fill="#a0a0a0"/>
<circle cx="268.1" cy="306.9" r="0.63" fill="#b3b3b3"/>
<circle cx="240.2" cy="311.5" r="0.46" fill="#bbbbbb"/>
<circle cx="280.7" cy="271.0" r="0.74" fill="#eaeaea"/>
<circle cx="270.0" cy="304.9" r="0.49" fill="#b5b5b5"/>
<circle cx="245.0" cy="307.8" r="0.57" fill="#b7b7b7"/>
<circle cx="289.1" cy="308.2" r="0.84" fill="#b7b7b7"/>
<circle cx="262.6" cy="301.9" r="0.64" fill="#a6a6a6"/>
<circle cx="258.2" cy="271.8" r="0.60" fill="#eeeeee"/>
<circle cx="287.0" cy="296.6" r="0.65" fill="#ababab"/>
<circle cx="241.9" cy="278.3" r="0.76" fill="#e2e2e2"/>
<circle cx="256.0" cy="304.8" r="0.76" fill="#d0d0d0"/>
<circle cx="271.7" cy="303.4" r="0.60" fill="#d1d1d1"/>
<circle cx="251.8" cy="289.3" r="0.76" fill="#cfcfcf"/>
<circle cx="252.5" cy="313.0" r="0.71" fill="#c4c4c4"/>
<circle cx="237.9" cy="292.5" r="0.55" fill="#cdcdcd"/>
<circle cx="261.3" cy="306.4" r="0.71" fill="#dadada"/>
<circle cx="255.3" cy="297.5" r="0.75" fill="#dedede"/>
<circle cx="255.4" cy="307.7" r="0.80" fill="#cfcfcf"/>
<circle cx="287.9" cy="313.6" r="0.66" fill="#bfbfbf"/>
<circle cx="245.9" cy="307.4" r="0.82" fill="#b9b9b9"/>
<circle cx="273.1" cy="301.4" r="0.74" fill="#999999"/>
<circle cx="277.7" cy="294.2" r="0.72" fill="#b3b3b3"/>
<circle cx="269.6" cy="304.2" r="0.70" fill="#d2d2d2"/>
<circle cx="238.7" cy="272.5" r="0.63" fill="#cbcbcb"/>
<circle cx="248.6" cy="299.6" r="0.70" fill="#8c8c8c"/>
<circle cx="261.7" cy="276.0" r="0.47" fill="#959595"/>
<circle cx="253.7" cy="273.6" r="0.53" fill="#8b8b8b"/>
<circle cx="261.4" cy="283.9" r="0.69" fill="#c5c5c5"/>
<circle cx="249.6" cy="310.8" r="0.45" fill="#b2b2b2"/>
<circle cx="251.7" cy="285.4" r="0.50" fill="#dedede"/>
<circle cx="256.7" cy="266.2" r="0.70" fill="#919191"/>
<circle cx="265.5" cy="281.8" r="0.68" fill="#ebebeb"/>
<circle cx="279.7" cy="285.9" r="0.78" fill="#cacaca"/>
<circle cx="256.4" cy="271.6" r="0.69" fill="#c2c2c2"/>
<circle cx="286.9" cy="314.2" r="0.69" fill="#acacac"/>
<circle cx="283.6" cy="264.3" r="0.49" fill="#c2c2c2"/>
<circle cx="269.2" cy="271.5" r="0.70" fill="#e4e4e4"/>
<circle cx="256.8" cy="286.5" r="0.54" fill="#a6a6a6"/>
<circle cx="287.7" cy="283.9" r="0.83" fill="#e7e7e7"/>
<circle cx="268.2" cy="277.7" r="0.84" fill="#bbbbbb"/>
<circle cx="258.8" cy="280.7" r="0.84" fill="#bbbbbb"/>
<circle cx="252.1" cy="288.9" r="0.50" fill="#c8c8c8"/>
<circle cx="260.3" cy="279.4" r="0.76" fill="#dddddd"/>
<circle cx="238.0" cy="291.7" r="0.56" fill="#e9e9e9"/>
<circle cx="277.8" cy="277.0" r="0.56" fill="#989898"/>
<circle cx="288.5" cy="279.4" r="0.69" fill="#b9b9b9"/>
<circle cx="270.7" cy="295.4" r="0.75" fill="#949494"/>
<circle cx="276.7" cy="279.8" r="0.66" fill="#aaaaaa"/>
<circle cx="252.7" cy="291.6" r="0.64" fill="#adadad"/>
<circle cx="275.9" cy="294.7" r="0.46" fill="#a2a2a2"/>
<circle cx="260.9" cy="311.5" r="0.81" fill="#c0c0c0"/>
<circle cx="238.1" cy="304.4" r="0.62" fill="#c3c3c3"/>
<circle cx="274.0" cy="296.9" r="0.64" fill="#e6e6e6"/>
<circle cx="257.3" cy="284.5" r="0.79" fill="#9c9c9c"/>
<circle cx="252.7" cy="307.0" r="0.48" fill="#dedede"/>
<circle cx="273.3" cy="286.6" r="0.56" fill="#d9d9d9"/>
<circle cx="284.5" cy="271.6" r="0.64" fill="#c1c1c1"/>
<circle cx="263.1" cy="281.3" r="0.51" fill="#c4c4c4"/>
<circle cx="279.4" cy="267.8" r="0.54" fill="#dddddd"/>
<circle cx="278.3" cy="298.5" r="0.46" fill="#d3d3d3"/>
<circle cx="288.0" cy="315.7" r="0.73" fill="#8d8d8d"/>
<circle cx="280.9" cy="275.6" r="0.71" fill="#ebebeb"/>
</g>
<line x1="281.20" y1="311.90" x2="284.60" y2="311.90" stroke="#c8c8c8" stroke-width="0.6"/>
<text x="337.80" y="189.80" font-size="5.98" text-anchor="start" fill="#1a1a1a" textLength="21.50" lengthAdjust="spacingAndGlyphs" transform="rotate(-45 337.80 189.80)">Control</text>
<text x="359.00" y="190.00" font-size="5.98" text-anchor="start" fill="#1a1a1a" textLength="32.00" lengthAdjust="spacingAndGlyphs" transform="rotate(-45 359.00 190.00)">Rap1a-mKO</text>
<text x="381.40" y="190.00" font-size="5.98" text-anchor="start" fill="#1a1a1a" textLength="32.00" lengthAdjust="spacingAndGlyphs" transform="rotate(-45 381.40 190.00)">Rap1b-mKO</text>
<text x="403.60" y="190.60" font-size="5.98" text-anchor="start" fill="#1a1a1a" textLength="37.00" lengthAdjust="spacingAndGlyphs" transform="rotate(-45 403.60 190.60)">Rap1a/b-mKO</text>
<text x="425.80" y="189.00" font-size="5.98" text-anchor="start" fill="#1a1a1a" textLength="30.20" lengthAdjust="spacingAndGlyphs" transform="rotate(-45 425.80 189.00)">Talin1-mKO</text>
<text x="446.80" y="190.00" font-size="5.98" text-anchor="start" fill="#1a1a1a" textLength="31.60" lengthAdjust="spacingAndGlyphs" transform="rotate(-45 446.80 190.00)">no platelets</text>
<rect x="330.4" y="193.2" width="123.4" height="27.5" fill="url(#pbg)"/>
<rect x="330.4" y="222.6" width="123.4" height="27.1" fill="url(#pbg)"/>
<clipPath id="cp1"><rect x="330.4" y="193.2" width="123.4" height="27.5"/></clipPath>
<clipPath id="cp2"><rect x="330.4" y="222.6" width="123.4" height="27.1"/></clipPath>
<g clip-path="url(#cp1)"><g filter="url(#b06)">
<rect x="335.0" y="192.2" width="1.2" height="6.2" fill="#c2c0a4"/>
<rect x="340.3" y="192.2" width="1.2" height="6.2" fill="#c2c0a4"/>
<rect x="336.2" y="192.2" width="4.1" height="6.2" fill="#6b7189"/>
<rect x="333.3" y="197.8" width="9.9" height="19.2" rx="1.3" fill="url(#ty1)"/>
<rect x="334.6" y="198.8" width="7.3" height="16.0" fill="url(#ty1i)"/>
<rect x="357.9" y="192.2" width="1.2" height="7.4" fill="#c2c0a4"/>
<rect x="362.7" y="192.2" width="1.2" height="7.4" fill="#c2c0a4"/>
<rect x="359.1" y="192.2" width="3.6" height="7.4" fill="#6b7189"/>
<rect x="356.2" y="199.0" width="9.4" height="19.0" rx="1.3" fill="url(#ty2)"/>
<rect x="357.5" y="200.0" width="6.8" height="15.8" fill="url(#ty2i)"/>
<rect x="378.5" y="192.2" width="1.2" height="7.0" fill="#c2c0a4"/>
<rect x="382.9" y="192.2" width="1.2" height="7.0" fill="#c2c0a4"/>
<rect x="379.7" y="192.2" width="3.2" height="7.0" fill="#6b7189"/>
<rect x="376.8" y="198.6" width="9.0" height="19.4" rx="1.3" fill="url(#ty2)"/>
<rect x="378.1" y="199.6" width="6.4" height="16.2" fill="url(#ty2i)"/>
<rect x="400.0" y="192.2" width="1.2" height="5.8" fill="#c2c0a4"/>
<rect x="403.9" y="192.2" width="1.2" height="5.8" fill="#c2c0a4"/>
<rect x="401.2" y="192.2" width="2.7" height="5.8" fill="#6b7189"/>
<rect x="398.3" y="197.4" width="8.5" height="18.0" rx="1.3" fill="url(#ty1)"/>
<rect x="399.6" y="198.4" width="5.9" height="14.8" fill="url(#ty1i)"/>
<rect x="422.7" y="192.2" width="1.2" height="6.2" fill="#c2c0a4"/>
<rect x="426.4" y="192.2" width="1.2" height="6.2" fill="#c2c0a4"/>
<rect x="423.9" y="192.2" width="2.5" height="6.2" fill="#6b7189"/>
<rect x="421.0" y="197.8" width="8.3" height="17.6" rx="1.3" fill="url(#ty1)"/>
<rect x="422.3" y="198.8" width="5.7" height="14.4" fill="url(#ty1i)"/>
<rect x="442.2" y="192.2" width="1.2" height="6.9" fill="#c2c0a4"/>
<rect x="446.3" y="192.2" width="1.2" height="6.9" fill="#c2c0a4"/>
<rect x="443.4" y="192.2" width="2.9" height="6.9" fill="#6b7189"/>
<rect x="440.5" y="198.5" width="8.7" height="17.8" rx="1.3" fill="url(#ty3)"/>
<rect x="441.8" y="199.5" width="6.1" height="14.6" fill="url(#ty3i)"/>
</g></g>
<g clip-path="url(#cp2)"><g filter="url(#b06)">
<rect x="335.0" y="221.6" width="1.2" height="5.4" fill="#c0b878"/>
<rect x="340.3" y="221.6" width="1.2" height="5.4" fill="#c0b878"/>
<rect x="336.2" y="221.6" width="4.1" height="5.4" fill="#838690"/>
<rect x="333.3" y="226.4" width="9.9" height="19.6" rx="1.3" fill="#d8c630"/>
<rect x="334.4" y="227.4" width="7.7" height="16.2" fill="#9a9660"/>
<path d="M337.6,243.8 L339.1,237.2 L341.2,235.0 L342.9,238.0 L342.9,243.8 Z" fill="#f4dc1c"/>
<rect x="333.9" y="243.4" width="8.7" height="2.2" rx="0.8" fill="#e9d223"/>
<rect x="357.9" y="221.6" width="1.2" height="5.8" fill="#c0b878"/>
<rect x="362.5" y="221.6" width="1.2" height="5.8" fill="#c0b878"/>
<rect x="359.1" y="221.6" width="3.4" height="5.8" fill="#838690"/>
<rect x="356.2" y="226.8" width="9.2" height="19.8" rx="1.3" fill="#d8c630"/>
<rect x="357.3" y="227.8" width="7.0" height="16.4" fill="#9a9660"/>
<path d="M359.0,244.2 L362.0,237.2 L363.8,236.3 L365.0,239.0 L365.0,244.2 Z" fill="#f4dc1c"/>
<rect x="356.8" y="244.0" width="8.0" height="2.2" rx="0.8" fill="#e9d223"/>
<rect x="382.6" y="221.6" width="1.2" height="5.8" fill="#c0b878"/>
<rect x="386.4" y="221.6" width="1.2" height="5.8" fill="#c0b878"/>
<rect x="383.8" y="221.6" width="2.6" height="5.8" fill="#838690"/>
<rect x="380.9" y="226.8" width="8.4" height="19.4" rx="1.3" fill="#d8c630"/>
<rect x="382.0" y="227.8" width="6.2" height="16.0" fill="#9a9660"/>
<path d="M384.6,243.8 L386.2,236.5 L388.3,236.9 L388.9,240.0 L388.9,243.8 Z" fill="#f4dc1c"/>
<rect x="381.5" y="243.6" width="7.2" height="2.2" rx="0.8" fill="#e9d223"/>
<rect x="398.7" y="222.0" width="9.1" height="21.3" rx="1.3" fill="#e3cd27"/>
<path d="M399.7,225.6 L405.0,225.6 L399.7,235.4 Z" fill="#9a9870"/>
<rect x="399.6" y="222.0" width="7.3" height="3.0" fill="#a8a27a"/>
<rect x="421.2" y="222.0" width="8.9" height="20.6" rx="1.3" fill="url(#ty4)"/>
<rect x="422.6" y="224.6" width="6.1" height="15.0" fill="url(#ty4i)"/>
<rect x="422.2" y="222.0" width="6.9" height="2.2" fill="#8a8878"/>
<rect x="441.1" y="222.0" width="8.8" height="21.0" rx="1.3" fill="url(#ty4)"/>
<rect x="442.5" y="224.8" width="6.0" height="15.2" fill="url(#ty4i)"/>
<rect x="442.1" y="222.0" width="6.8" height="2.4" fill="#84828a"/>
</g></g>
<line x1="330.75" y1="193.20" x2="330.75" y2="220.70" stroke="#2a2418" stroke-width="0.7"/>
<line x1="330.75" y1="222.60" x2="330.75" y2="249.70" stroke="#2a2418" stroke-width="0.7"/>
<text x="461.90" y="203.18" font-size="5.98" text-anchor="middle" fill="#1a1a1a" textLength="3.40" lengthAdjust="spacingAndGlyphs">0</text>
<text x="462.20" y="243.88" font-size="5.98" text-anchor="middle" fill="#1a1a1a" textLength="10.00" lengthAdjust="spacingAndGlyphs">120</text>
<line x1="461.90" y1="207.00" x2="461.90" y2="231.00" stroke="#000" stroke-width="1.4"/>
<path d="M461.9,236.4 L458.4,228.2 L461.9,229.8 L465.4,228.2 Z" fill="#000"/>
<text x="469.70" y="221.50" font-size="6.5" text-anchor="middle" fill="#1a1a1a" textLength="23.00" lengthAdjust="spacingAndGlyphs" transform="rotate(90 469.70 221.50)">time (m)</text>
<rect x="332.26" y="269.40" width="4.00" height="49.20" fill="#000"/>
<rect x="336.88" y="269.40" width="4.00" height="49.20" fill="#6ba53b"/>
<rect x="341.50" y="269.40" width="4.00" height="49.20" fill="#dc8c16"/>
<rect x="346.12" y="269.40" width="4.00" height="49.20" fill="#a8062c"/>
<rect x="350.74" y="269.40" width="4.00" height="49.20" fill="#28487e"/>
<rect x="360.16" y="286.62" width="4.00" height="31.98" fill="#000"/>
<line x1="362.16" y1="284.16" x2="362.16" y2="286.62" stroke="#000" stroke-width="0.8"/>
<line x1="360.76" y1="284.16" x2="363.56" y2="284.16" stroke="#000" stroke-width="0.8"/>
<rect x="364.78" y="288.10" width="4.00" height="30.50" fill="#6ba53b"/>
<line x1="366.78" y1="286.87" x2="366.78" y2="288.10" stroke="#000" stroke-width="0.8"/>
<line x1="365.38" y1="286.87" x2="368.18" y2="286.87" stroke="#000" stroke-width="0.8"/>
<rect x="369.40" y="290.56" width="4.00" height="28.04" fill="#dc8c16"/>
<line x1="371.40" y1="289.08" x2="371.40" y2="290.56" stroke="#000" stroke-width="0.8"/>
<line x1="370.00" y1="289.08" x2="372.80" y2="289.08" stroke="#000" stroke-width="0.8"/>
<rect x="374.02" y="269.40" width="4.00" height="49.20" fill="#a8062c"/>
<rect x="378.64" y="269.40" width="4.00" height="49.20" fill="#28487e"/>
<rect x="387.16" y="301.38" width="4.00" height="17.22" fill="#000"/>
<line x1="389.16" y1="300.64" x2="389.16" y2="301.38" stroke="#000" stroke-width="0.8"/>
<line x1="387.76" y1="300.64" x2="390.56" y2="300.64" stroke="#000" stroke-width="0.8"/>
<rect x="391.78" y="301.87" width="4.00" height="16.73" fill="#6ba53b"/>
<line x1="393.78" y1="301.13" x2="393.78" y2="301.87" stroke="#000" stroke-width="0.8"/>
<line x1="392.38" y1="301.13" x2="395.18" y2="301.13" stroke="#000" stroke-width="0.8"/>
<rect x="396.40" y="303.84" width="4.00" height="14.76" fill="#dc8c16"/>
<line x1="398.40" y1="302.86" x2="398.40" y2="303.84" stroke="#000" stroke-width="0.8"/>
<line x1="397.00" y1="302.86" x2="399.80" y2="302.86" stroke="#000" stroke-width="0.8"/>
<rect x="401.02" y="276.78" width="4.00" height="41.82" fill="#a8062c"/>
<line x1="403.02" y1="274.57" x2="403.02" y2="276.78" stroke="#000" stroke-width="0.8"/>
<line x1="401.62" y1="274.57" x2="404.42" y2="274.57" stroke="#000" stroke-width="0.8"/>
<rect x="405.64" y="270.38" width="4.00" height="48.22" fill="#28487e"/>
<line x1="407.64" y1="269.40" x2="407.64" y2="270.38" stroke="#000" stroke-width="0.8"/>
<line x1="406.24" y1="269.40" x2="409.04" y2="269.40" stroke="#000" stroke-width="0.8"/>
<rect x="414.56" y="306.30" width="4.00" height="12.30" fill="#000"/>
<line x1="416.56" y1="305.56" x2="416.56" y2="306.30" stroke="#000" stroke-width="0.8"/>
<line x1="415.16" y1="305.56" x2="417.96" y2="305.56" stroke="#000" stroke-width="0.8"/>
<rect x="419.18" y="306.30" width="4.00" height="12.30" fill="#6ba53b"/>
<line x1="421.18" y1="305.56" x2="421.18" y2="306.30" stroke="#000" stroke-width="0.8"/>
<line x1="419.78" y1="305.56" x2="422.58" y2="305.56" stroke="#000" stroke-width="0.8"/>
<rect x="423.80" y="307.78" width="4.00" height="10.82" fill="#dc8c16"/>
<line x1="425.80" y1="306.79" x2="425.80" y2="307.78" stroke="#000" stroke-width="0.8"/>
<line x1="424.40" y1="306.79" x2="427.20" y2="306.79" stroke="#000" stroke-width="0.8"/>
<rect x="428.42" y="282.68" width="4.00" height="35.92" fill="#a8062c"/>
<line x1="430.42" y1="281.21" x2="430.42" y2="282.68" stroke="#000" stroke-width="0.8"/>
<line x1="429.02" y1="281.21" x2="431.82" y2="281.21" stroke="#000" stroke-width="0.8"/>
<rect x="433.04" y="270.38" width="4.00" height="48.22" fill="#28487e"/>
<line x1="435.04" y1="269.40" x2="435.04" y2="270.38" stroke="#000" stroke-width="0.8"/>
<line x1="433.64" y1="269.40" x2="436.44" y2="269.40" stroke="#000" stroke-width="0.8"/>
<rect x="442.06" y="308.27" width="4.00" height="10.33" fill="#000"/>
<line x1="444.06" y1="307.28" x2="444.06" y2="308.27" stroke="#000" stroke-width="0.8"/>
<line x1="442.66" y1="307.28" x2="445.46" y2="307.28" stroke="#000" stroke-width="0.8"/>
<rect x="446.68" y="307.78" width="4.00" height="10.82" fill="#6ba53b"/>
<line x1="448.68" y1="307.04" x2="448.68" y2="307.78" stroke="#000" stroke-width="0.8"/>
<line x1="447.28" y1="307.04" x2="450.08" y2="307.04" stroke="#000" stroke-width="0.8"/>
<rect x="451.30" y="309.74" width="4.00" height="8.86" fill="#dc8c16"/>
<line x1="453.30" y1="308.76" x2="453.30" y2="309.74" stroke="#000" stroke-width="0.8"/>
<line x1="451.90" y1="308.76" x2="454.70" y2="308.76" stroke="#000" stroke-width="0.8"/>
<rect x="455.92" y="285.14" width="4.00" height="33.46" fill="#a8062c"/>
<line x1="457.92" y1="283.42" x2="457.92" y2="285.14" stroke="#000" stroke-width="0.8"/>
<line x1="456.52" y1="283.42" x2="459.32" y2="283.42" stroke="#000" stroke-width="0.8"/>
<rect x="460.54" y="271.37" width="4.00" height="47.23" fill="#28487e"/>
<line x1="462.54" y1="269.15" x2="462.54" y2="271.37" stroke="#000" stroke-width="0.8"/>
<line x1="461.14" y1="269.15" x2="463.94" y2="269.15" stroke="#000" stroke-width="0.8"/>
<line x1="330.70" y1="259.80" x2="330.70" y2="319.10" stroke="#000" stroke-width="1.2"/>
<line x1="330.30" y1="318.60" x2="466.50" y2="318.60" stroke="#000" stroke-width="1.1"/>
<line x1="327.80" y1="318.60" x2="330.70" y2="318.60" stroke="#000" stroke-width="0.9"/>
<text x="326.70" y="320.90" font-size="6.32" text-anchor="end" fill="#1a1a1a" textLength="3.40" lengthAdjust="spacingAndGlyphs">0</text>
<line x1="327.80" y1="306.30" x2="330.70" y2="306.30" stroke="#000" stroke-width="0.9"/>
<text x="326.70" y="308.60" font-size="6.32" text-anchor="end" fill="#1a1a1a" textLength="7.00" lengthAdjust="spacingAndGlyphs">25</text>
<line x1="327.80" y1="294.00" x2="330.70" y2="294.00" stroke="#000" stroke-width="0.9"/>
<text x="326.70" y="296.30" font-size="6.32" text-anchor="end" fill="#1a1a1a" textLength="7.00" lengthAdjust="spacingAndGlyphs">50</text>
<line x1="327.80" y1="281.70" x2="330.70" y2="281.70" stroke="#000" stroke-width="0.9"/>
<text x="326.70" y="284.00" font-size="6.32" text-anchor="end" fill="#1a1a1a" textLength="7.00" lengthAdjust="spacingAndGlyphs">75</text>
<line x1="327.80" y1="269.40" x2="330.70" y2="269.40" stroke="#000" stroke-width="0.9"/>
<text x="326.70" y="271.70" font-size="6.32" text-anchor="end" fill="#1a1a1a" textLength="11.00" lengthAdjust="spacingAndGlyphs">100</text>
<line x1="343.50" y1="318.60" x2="343.50" y2="321.00" stroke="#000" stroke-width="0.9"/>
<text x="343.50" y="329.50" font-size="6.32" text-anchor="middle" fill="#1a1a1a" textLength="3.40" lengthAdjust="spacingAndGlyphs">0</text>
<line x1="371.00" y1="318.60" x2="371.00" y2="321.00" stroke="#000" stroke-width="0.9"/>
<text x="371.00" y="329.50" font-size="6.32" text-anchor="middle" fill="#1a1a1a" textLength="6.70" lengthAdjust="spacingAndGlyphs">30</text>
<line x1="398.40" y1="318.60" x2="398.40" y2="321.00" stroke="#000" stroke-width="0.9"/>
<text x="398.40" y="329.50" font-size="6.32" text-anchor="middle" fill="#1a1a1a" textLength="6.70" lengthAdjust="spacingAndGlyphs">60</text>
<line x1="425.80" y1="318.60" x2="425.80" y2="321.00" stroke="#000" stroke-width="0.9"/>
<text x="425.80" y="329.50" font-size="6.32" text-anchor="middle" fill="#1a1a1a" textLength="6.70" lengthAdjust="spacingAndGlyphs">90</text>
<line x1="453.30" y1="318.60" x2="453.30" y2="321.00" stroke="#000" stroke-width="0.9"/>
<text x="453.30" y="329.50" font-size="6.32" text-anchor="middle" fill="#1a1a1a" textLength="10.00" lengthAdjust="spacingAndGlyphs">120</text>
<text x="398.80" y="341.21" font-size="8.74" text-anchor="middle" fill="#1a1a1a" textLength="30.60" lengthAdjust="spacingAndGlyphs">Time (m)</text>
<text x="309.31" y="289.20" font-size="8.74" text-anchor="middle" fill="#1a1a1a" textLength="42.40" lengthAdjust="spacingAndGlyphs" transform="rotate(-90 309.31 289.20)">Clot size (%)</text>
<rect x="470.80" y="270.20" width="5.60" height="5.60" fill="#000"/>
<text x="479.00" y="275.07" font-size="5.75" text-anchor="start" fill="#1a1a1a" textLength="16.30" lengthAdjust="spacingAndGlyphs">Control</text>
<rect x="470.80" y="279.00" width="5.60" height="5.60" fill="#6ba53b"/>
<text x="479.00" y="283.87" font-size="5.75" text-anchor="start" fill="#1a1a1a" textLength="25.80" lengthAdjust="spacingAndGlyphs">Rap1a-mKO</text>
<rect x="470.80" y="287.80" width="5.60" height="5.60" fill="#dc8c16"/>
<text x="479.00" y="292.67" font-size="5.75" text-anchor="start" fill="#1a1a1a" textLength="25.80" lengthAdjust="spacingAndGlyphs">Rap1b-mKO</text>
<rect x="470.80" y="296.60" width="5.60" height="5.60" fill="#a8062c"/>
<text x="479.00" y="301.47" font-size="5.75" text-anchor="start" fill="#1a1a1a" textLength="31.30" lengthAdjust="spacingAndGlyphs">Rap1a/b-mKO</text>
<rect x="470.80" y="305.40" width="5.60" height="5.60" fill="#28487e"/>
<text x="479.00" y="310.27" font-size="5.75" text-anchor="start" fill="#1a1a1a" textLength="25.30" lengthAdjust="spacingAndGlyphs">Talin1-mKO</text>
<rect x="0" y="0" width="520" height="1.45" fill="url(#gtop)"/>
<rect x="0" y="349" width="520" height="1" fill="url(#gb1)"/>
<rect x="0" y="350" width="520" height="1" fill="url(#gb2)"/>
<rect x="0" y="0" width="1.05" height="351" fill="#060606"/>
<rect x="518.6" y="0" width="1.4" height="351" fill="#222"/>
</svg>
</body>
</html>
